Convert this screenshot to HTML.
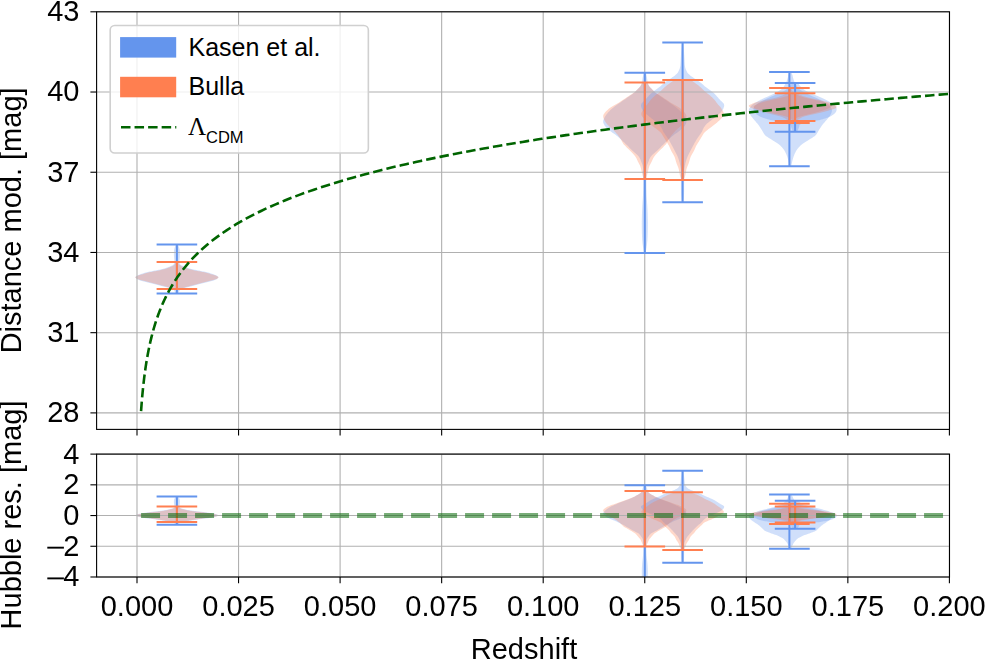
<!DOCTYPE html><html><head><meta charset="utf-8"><style>html,body{margin:0;padding:0;background:#fff;}svg{display:block;}</style></head><body><svg width="985" height="659" viewBox="0 0 985 659">
<defs><clipPath id="ct"><rect x="96.6" y="11.8" width="852.9" height="417.59999999999997"/></clipPath><clipPath id="cb"><rect x="96.6" y="454.1" width="852.9" height="122.89999999999998"/></clipPath></defs>
<rect width="985" height="659" fill="#fff"/>
<g clip-path="url(#ct)"><path d="M176.10,244.50 L175.96,244.77 L175.77,245.13 L175.55,245.56 L175.31,246.04 L175.09,246.53 L174.90,247.00 L174.74,247.46 L174.58,247.93 L174.44,248.41 L174.31,248.91 L174.19,249.44 L174.10,250.00 L174.03,250.61 L173.97,251.26 L173.94,251.94 L173.91,252.63 L173.90,253.32 L173.90,254.00 L173.91,254.68 L173.93,255.37 L173.97,256.06 L174.01,256.74 L174.06,257.39 L174.10,258.00 L174.15,258.57 L174.21,259.11 L174.27,259.62 L174.33,260.11 L174.37,260.57 L174.40,261.00 L174.42,261.39 L174.44,261.74 L174.46,262.06 L174.44,262.37 L174.40,262.68 L174.30,263.00 L174.19,263.33 L174.08,263.65 L173.94,263.97 L173.72,264.30 L173.39,264.64 L172.90,265.00 L172.23,265.40 L171.39,265.83 L170.44,266.27 L169.42,266.71 L168.39,267.12 L167.40,267.50 L166.42,267.84 L165.42,268.14 L164.40,268.43 L163.38,268.70 L162.38,268.95 L161.40,269.20 L160.46,269.43 L159.55,269.64 L158.65,269.83 L157.75,270.02 L156.84,270.21 L155.90,270.40 L154.93,270.60 L153.94,270.79 L152.93,270.98 L151.92,271.18 L150.91,271.38 L149.90,271.60 L148.89,271.83 L147.88,272.06 L146.87,272.31 L145.86,272.56 L144.87,272.82 L143.90,273.10 L142.92,273.40 L141.91,273.72 L140.92,274.06 L139.98,274.39 L139.13,274.71 L138.40,275.00 L137.81,275.27 L137.34,275.52 L136.95,275.76 L136.63,275.99 L136.35,276.20 L136.10,276.40 L135.87,276.58 L135.70,276.73 L135.56,276.87 L135.47,277.01 L135.42,277.15 L135.40,277.30 L135.42,277.46 L135.47,277.61 L135.56,277.76 L135.70,277.93 L135.87,278.10 L136.10,278.30 L136.35,278.52 L136.63,278.75 L136.95,279.00 L137.34,279.26 L137.81,279.53 L138.40,279.80 L139.13,280.09 L139.98,280.39 L140.92,280.71 L141.91,281.02 L142.92,281.32 L143.90,281.60 L144.87,281.86 L145.86,282.09 L146.87,282.32 L147.88,282.54 L148.89,282.77 L149.90,283.00 L150.91,283.25 L151.92,283.50 L152.93,283.75 L153.94,284.00 L154.93,284.25 L155.90,284.50 L156.84,284.74 L157.75,284.96 L158.65,285.19 L159.55,285.41 L160.46,285.65 L161.40,285.90 L162.38,286.17 L163.38,286.45 L164.40,286.74 L165.42,287.03 L166.42,287.32 L167.40,287.60 L168.39,287.87 L169.42,288.13 L170.43,288.39 L171.38,288.66 L172.22,288.92 L172.90,289.20 L173.39,289.48 L173.71,289.76 L173.93,290.04 L174.09,290.34 L174.23,290.66 L174.40,291.00 L174.61,291.41 L174.81,291.87 L174.99,292.36 L175.16,292.83 L175.30,293.22 L175.40,293.50 L178.40,293.50 L178.50,293.22 L178.64,292.83 L178.81,292.36 L178.99,291.87 L179.19,291.41 L179.40,291.00 L179.57,290.66 L179.71,290.34 L179.87,290.04 L180.09,289.76 L180.41,289.48 L180.90,289.20 L181.58,288.92 L182.42,288.66 L183.37,288.39 L184.38,288.13 L185.41,287.87 L186.40,287.60 L187.38,287.32 L188.38,287.03 L189.40,286.74 L190.42,286.45 L191.42,286.17 L192.40,285.90 L193.34,285.65 L194.25,285.41 L195.15,285.19 L196.05,284.96 L196.96,284.74 L197.90,284.50 L198.87,284.25 L199.86,284.00 L200.87,283.75 L201.88,283.50 L202.89,283.25 L203.90,283.00 L204.91,282.77 L205.92,282.54 L206.93,282.32 L207.94,282.09 L208.93,281.86 L209.90,281.60 L210.88,281.32 L211.89,281.02 L212.88,280.71 L213.82,280.39 L214.67,280.09 L215.40,279.80 L215.99,279.53 L216.46,279.26 L216.85,279.00 L217.17,278.75 L217.45,278.52 L217.70,278.30 L217.93,278.10 L218.10,277.93 L218.24,277.76 L218.33,277.61 L218.38,277.46 L218.40,277.30 L218.38,277.15 L218.33,277.01 L218.24,276.87 L218.10,276.73 L217.93,276.58 L217.70,276.40 L217.45,276.20 L217.17,275.99 L216.85,275.76 L216.46,275.52 L215.99,275.27 L215.40,275.00 L214.67,274.71 L213.82,274.39 L212.88,274.06 L211.89,273.72 L210.88,273.40 L209.90,273.10 L208.93,272.82 L207.94,272.56 L206.93,272.31 L205.92,272.06 L204.91,271.83 L203.90,271.60 L202.89,271.38 L201.88,271.18 L200.87,270.98 L199.86,270.79 L198.87,270.60 L197.90,270.40 L196.96,270.21 L196.05,270.02 L195.15,269.83 L194.25,269.64 L193.34,269.43 L192.40,269.20 L191.42,268.95 L190.42,268.70 L189.40,268.43 L188.38,268.14 L187.38,267.84 L186.40,267.50 L185.41,267.12 L184.38,266.71 L183.36,266.27 L182.41,265.83 L181.57,265.40 L180.90,265.00 L180.41,264.64 L180.08,264.30 L179.86,263.97 L179.72,263.65 L179.61,263.33 L179.50,263.00 L179.40,262.68 L179.36,262.37 L179.34,262.06 L179.36,261.74 L179.38,261.39 L179.40,261.00 L179.43,260.57 L179.47,260.11 L179.53,259.62 L179.59,259.11 L179.65,258.57 L179.70,258.00 L179.74,257.39 L179.79,256.74 L179.83,256.06 L179.87,255.37 L179.89,254.68 L179.90,254.00 L179.90,253.32 L179.89,252.63 L179.86,251.94 L179.83,251.26 L179.77,250.61 L179.70,250.00 L179.61,249.44 L179.49,248.91 L179.36,248.41 L179.22,247.93 L179.06,247.46 L178.90,247.00 L178.71,246.53 L178.49,246.04 L178.25,245.56 L178.03,245.13 L177.84,244.77 L177.70,244.50 Z" fill="#6495ed" fill-opacity="0.3"/>
<path d="M175.70,262.00 L175.69,262.12 L175.68,262.27 L175.67,262.46 L175.63,262.67 L175.55,262.92 L175.40,263.20 L175.22,263.52 L175.03,263.87 L174.79,264.26 L174.48,264.67 L174.06,265.09 L173.50,265.50 L172.76,265.93 L171.86,266.38 L170.84,266.84 L169.78,267.29 L168.71,267.72 L167.70,268.10 L166.73,268.44 L165.76,268.75 L164.79,269.04 L163.83,269.30 L162.86,269.56 L161.90,269.80 L160.95,270.03 L160.00,270.24 L159.05,270.44 L158.10,270.63 L157.15,270.81 L156.20,271.00 L155.24,271.18 L154.27,271.36 L153.31,271.53 L152.34,271.71 L151.37,271.89 L150.40,272.10 L149.43,272.32 L148.46,272.56 L147.49,272.81 L146.53,273.07 L145.56,273.33 L144.60,273.60 L143.61,273.88 L142.59,274.17 L141.56,274.47 L140.58,274.76 L139.68,275.04 L138.90,275.30 L138.24,275.53 L137.67,275.75 L137.19,275.96 L136.77,276.15 L136.41,276.33 L136.10,276.50 L135.85,276.65 L135.66,276.79 L135.53,276.91 L135.45,277.03 L135.41,277.16 L135.40,277.30 L135.41,277.45 L135.45,277.61 L135.53,277.77 L135.66,277.94 L135.85,278.11 L136.10,278.30 L136.41,278.50 L136.77,278.70 L137.19,278.92 L137.67,279.14 L138.24,279.37 L138.90,279.60 L139.68,279.84 L140.58,280.09 L141.56,280.34 L142.59,280.60 L143.61,280.85 L144.60,281.10 L145.56,281.34 L146.53,281.57 L147.49,281.80 L148.46,282.03 L149.43,282.26 L150.40,282.50 L151.37,282.75 L152.34,283.00 L153.31,283.25 L154.27,283.50 L155.24,283.75 L156.20,284.00 L157.15,284.24 L158.10,284.46 L159.05,284.69 L160.00,284.91 L160.95,285.15 L161.90,285.40 L162.86,285.67 L163.83,285.95 L164.79,286.24 L165.76,286.54 L166.73,286.82 L167.70,287.10 L168.72,287.37 L169.81,287.65 L170.91,287.93 L171.93,288.18 L172.82,288.41 L173.50,288.60 L173.94,288.75 L174.20,288.86 L174.31,288.94 L174.35,289.01 L174.36,289.06 L174.40,289.10 L179.40,289.10 L179.44,289.06 L179.45,289.01 L179.49,288.94 L179.60,288.86 L179.86,288.75 L180.30,288.60 L180.98,288.41 L181.87,288.18 L182.89,287.93 L183.99,287.65 L185.08,287.37 L186.10,287.10 L187.07,286.82 L188.04,286.54 L189.01,286.24 L189.97,285.95 L190.94,285.67 L191.90,285.40 L192.85,285.15 L193.80,284.91 L194.75,284.69 L195.70,284.46 L196.65,284.24 L197.60,284.00 L198.56,283.75 L199.53,283.50 L200.49,283.25 L201.46,283.00 L202.43,282.75 L203.40,282.50 L204.37,282.26 L205.34,282.03 L206.31,281.80 L207.27,281.57 L208.24,281.34 L209.20,281.10 L210.19,280.85 L211.21,280.60 L212.24,280.34 L213.22,280.09 L214.12,279.84 L214.90,279.60 L215.56,279.37 L216.13,279.14 L216.61,278.92 L217.03,278.70 L217.39,278.50 L217.70,278.30 L217.95,278.11 L218.14,277.94 L218.27,277.77 L218.35,277.61 L218.39,277.45 L218.40,277.30 L218.39,277.16 L218.35,277.03 L218.27,276.91 L218.14,276.79 L217.95,276.65 L217.70,276.50 L217.39,276.33 L217.03,276.15 L216.61,275.96 L216.13,275.75 L215.56,275.53 L214.90,275.30 L214.12,275.04 L213.22,274.76 L212.24,274.47 L211.21,274.17 L210.19,273.88 L209.20,273.60 L208.24,273.33 L207.27,273.07 L206.31,272.81 L205.34,272.56 L204.37,272.32 L203.40,272.10 L202.43,271.89 L201.46,271.71 L200.49,271.53 L199.53,271.36 L198.56,271.18 L197.60,271.00 L196.65,270.81 L195.70,270.63 L194.75,270.44 L193.80,270.24 L192.85,270.03 L191.90,269.80 L190.94,269.56 L189.97,269.30 L189.01,269.04 L188.04,268.75 L187.07,268.44 L186.10,268.10 L185.09,267.72 L184.02,267.29 L182.96,266.84 L181.94,266.38 L181.04,265.93 L180.30,265.50 L179.74,265.09 L179.32,264.67 L179.01,264.26 L178.77,263.87 L178.58,263.52 L178.40,263.20 L178.25,262.92 L178.17,262.67 L178.13,262.46 L178.12,262.27 L178.11,262.12 L178.10,262.00 Z" fill="#ff7f50" fill-opacity="0.3"/>
<path d="M643.80,72.70 L643.66,73.28 L643.47,74.09 L643.25,75.04 L643.01,76.06 L642.79,77.07 L642.60,78.00 L642.45,78.87 L642.33,79.75 L642.22,80.62 L642.11,81.46 L641.97,82.26 L641.80,83.00 L641.60,83.66 L641.39,84.24 L641.16,84.79 L640.90,85.31 L640.58,85.84 L640.20,86.40 L639.73,87.00 L639.19,87.61 L638.59,88.23 L637.97,88.84 L637.36,89.43 L636.80,90.00 L636.32,90.51 L635.92,90.97 L635.52,91.41 L635.08,91.87 L634.53,92.39 L633.80,93.00 L632.88,93.71 L631.80,94.50 L630.61,95.34 L629.36,96.22 L628.07,97.11 L626.80,98.00 L625.50,98.90 L624.13,99.83 L622.74,100.78 L621.36,101.72 L620.03,102.64 L618.80,103.50 L617.67,104.30 L616.61,105.06 L615.61,105.79 L614.65,106.51 L613.72,107.24 L612.80,108.00 L611.89,108.78 L611.00,109.56 L610.14,110.36 L609.32,111.16 L608.53,111.97 L607.80,112.80 L607.10,113.66 L606.43,114.54 L605.81,115.44 L605.23,116.33 L604.73,117.19 L604.30,118.00 L603.93,118.75 L603.62,119.45 L603.37,120.12 L603.20,120.79 L603.14,121.48 L603.20,122.20 L603.39,122.97 L603.70,123.77 L604.12,124.59 L604.62,125.41 L605.18,126.22 L605.80,127.00 L606.49,127.77 L607.29,128.53 L608.15,129.28 L609.04,130.01 L609.94,130.72 L610.80,131.40 L611.63,132.04 L612.47,132.63 L613.30,133.21 L614.13,133.78 L614.97,134.37 L615.80,135.00 L616.63,135.67 L617.45,136.35 L618.27,137.06 L619.10,137.78 L619.94,138.53 L620.80,139.30 L621.67,140.09 L622.54,140.90 L623.43,141.74 L624.33,142.60 L625.25,143.48 L626.20,144.40 L627.17,145.36 L628.17,146.36 L629.19,147.39 L630.22,148.44 L631.26,149.48 L632.30,150.50 L633.39,151.51 L634.55,152.53 L635.72,153.54 L636.84,154.54 L637.85,155.53 L638.70,156.50 L639.37,157.46 L639.89,158.41 L640.31,159.36 L640.66,160.27 L640.97,161.16 L641.30,162.00 L641.63,162.77 L641.92,163.47 L642.19,164.14 L642.42,164.81 L642.63,165.52 L642.80,166.30 L642.93,167.14 L643.03,168.01 L643.09,168.92 L643.13,169.88 L643.16,170.90 L643.20,172.00 L643.24,173.12 L643.27,174.24 L643.29,175.42 L643.31,176.73 L643.31,178.23 L643.30,180.00 L643.28,182.12 L643.25,184.56 L643.21,187.19 L643.15,189.89 L643.08,192.53 L643.00,195.00 L642.89,197.27 L642.76,199.44 L642.61,201.56 L642.46,203.67 L642.32,205.80 L642.20,208.00 L642.10,210.28 L642.01,212.59 L641.94,214.94 L641.87,217.30 L641.83,219.66 L641.80,222.00 L641.79,224.40 L641.81,226.89 L641.84,229.38 L641.88,231.78 L641.94,234.01 L642.00,236.00 L642.07,237.67 L642.14,239.07 L642.22,240.31 L642.33,241.48 L642.45,242.68 L642.60,244.00 L642.80,245.55 L643.06,247.26 L643.34,249.00 L643.61,250.63 L643.84,252.01 L644.00,253.00 L645.60,253.00 L645.76,252.01 L645.99,250.63 L646.26,249.00 L646.54,247.26 L646.80,245.55 L647.00,244.00 L647.15,242.68 L647.27,241.48 L647.38,240.31 L647.46,239.07 L647.53,237.67 L647.60,236.00 L647.66,234.01 L647.72,231.78 L647.76,229.38 L647.79,226.89 L647.81,224.40 L647.80,222.00 L647.77,219.66 L647.73,217.30 L647.66,214.94 L647.59,212.59 L647.50,210.28 L647.40,208.00 L647.28,205.80 L647.14,203.67 L646.99,201.56 L646.84,199.44 L646.71,197.27 L646.60,195.00 L646.52,192.53 L646.45,189.89 L646.39,187.19 L646.35,184.56 L646.32,182.12 L646.30,180.00 L646.29,178.23 L646.29,176.73 L646.31,175.42 L646.33,174.24 L646.36,173.12 L646.40,172.00 L646.44,170.90 L646.47,169.88 L646.51,168.92 L646.57,168.01 L646.67,167.14 L646.80,166.30 L646.97,165.52 L647.18,164.81 L647.41,164.14 L647.68,163.47 L647.97,162.77 L648.30,162.00 L648.63,161.16 L648.94,160.27 L649.29,159.36 L649.71,158.41 L650.23,157.46 L650.90,156.50 L651.75,155.53 L652.76,154.54 L653.88,153.54 L655.05,152.53 L656.21,151.51 L657.30,150.50 L658.34,149.48 L659.38,148.44 L660.41,147.39 L661.43,146.36 L662.43,145.36 L663.40,144.40 L664.35,143.48 L665.27,142.60 L666.17,141.74 L667.06,140.90 L667.93,140.09 L668.80,139.30 L669.66,138.53 L670.50,137.78 L671.32,137.06 L672.15,136.35 L672.97,135.67 L673.80,135.00 L674.63,134.37 L675.47,133.78 L676.30,133.21 L677.13,132.63 L677.97,132.04 L678.80,131.40 L679.66,130.72 L680.56,130.01 L681.45,129.28 L682.31,128.53 L683.11,127.77 L683.80,127.00 L684.42,126.22 L684.98,125.41 L685.48,124.59 L685.90,123.77 L686.21,122.97 L686.40,122.20 L686.46,121.48 L686.40,120.79 L686.23,120.12 L685.98,119.45 L685.67,118.75 L685.30,118.00 L684.87,117.19 L684.37,116.33 L683.79,115.44 L683.17,114.54 L682.50,113.66 L681.80,112.80 L681.07,111.97 L680.28,111.16 L679.46,110.36 L678.60,109.56 L677.71,108.78 L676.80,108.00 L675.88,107.24 L674.95,106.51 L673.99,105.79 L672.99,105.06 L671.93,104.30 L670.80,103.50 L669.57,102.64 L668.24,101.72 L666.86,100.78 L665.47,99.83 L664.10,98.90 L662.80,98.00 L661.53,97.11 L660.24,96.22 L658.99,95.34 L657.80,94.50 L656.72,93.71 L655.80,93.00 L655.07,92.39 L654.52,91.87 L654.07,91.41 L653.68,90.97 L653.28,90.51 L652.80,90.00 L652.24,89.43 L651.63,88.84 L651.01,88.23 L650.41,87.61 L649.87,87.00 L649.40,86.40 L649.02,85.84 L648.70,85.31 L648.44,84.79 L648.21,84.24 L648.00,83.66 L647.80,83.00 L647.62,82.26 L647.49,81.46 L647.38,80.62 L647.27,79.75 L647.15,78.87 L647.00,78.00 L646.81,77.07 L646.59,76.06 L646.35,75.04 L646.13,74.09 L645.94,73.28 L645.80,72.70 Z" fill="#6495ed" fill-opacity="0.3"/>
<path d="M642.30,82.60 L642.09,83.02 L641.80,83.59 L641.46,84.28 L641.07,85.01 L640.65,85.73 L640.20,86.40 L639.71,87.02 L639.17,87.64 L638.59,88.25 L637.99,88.85 L637.39,89.44 L636.80,90.00 L636.27,90.51 L635.79,90.97 L635.31,91.41 L634.77,91.87 L634.12,92.39 L633.30,93.00 L632.29,93.71 L631.13,94.50 L629.86,95.34 L628.51,96.22 L627.15,97.11 L625.80,98.00 L624.44,98.90 L623.04,99.83 L621.61,100.78 L620.17,101.72 L618.76,102.64 L617.40,103.50 L616.06,104.30 L614.71,105.06 L613.39,105.79 L612.11,106.51 L610.91,107.24 L609.80,108.00 L608.78,108.80 L607.81,109.64 L606.92,110.48 L606.12,111.31 L605.41,112.09 L604.80,112.80 L604.31,113.42 L603.91,113.96 L603.62,114.45 L603.41,114.93 L603.27,115.44 L603.20,116.00 L603.20,116.61 L603.28,117.24 L603.43,117.89 L603.66,118.56 L603.95,119.27 L604.30,120.00 L604.72,120.78 L605.21,121.59 L605.77,122.44 L606.40,123.30 L607.07,124.16 L607.80,125.00 L608.61,125.83 L609.52,126.67 L610.49,127.50 L611.47,128.33 L612.42,129.17 L613.30,130.00 L614.13,130.84 L614.93,131.69 L615.71,132.54 L616.45,133.39 L617.15,134.21 L617.80,135.00 L618.39,135.75 L618.91,136.46 L619.39,137.14 L619.86,137.83 L620.32,138.55 L620.80,139.30 L621.26,140.09 L621.69,140.90 L622.11,141.74 L622.57,142.60 L623.12,143.48 L623.80,144.40 L624.65,145.36 L625.63,146.36 L626.70,147.39 L627.80,148.44 L628.89,149.48 L629.90,150.50 L630.87,151.50 L631.84,152.50 L632.79,153.50 L633.70,154.50 L634.54,155.50 L635.30,156.50 L635.96,157.54 L636.55,158.61 L637.07,159.69 L637.54,160.74 L637.98,161.72 L638.40,162.60 L638.79,163.33 L639.14,163.94 L639.45,164.48 L639.74,165.01 L640.02,165.60 L640.30,166.30 L640.58,167.15 L640.85,168.11 L641.11,169.13 L641.35,170.15 L641.58,171.13 L641.80,172.00 L642.00,172.78 L642.19,173.50 L642.36,174.18 L642.52,174.81 L642.67,175.42 L642.80,176.00 L642.92,176.58 L643.02,177.16 L643.11,177.70 L643.19,178.19 L643.25,178.60 L643.30,178.90 L646.30,178.90 L646.35,178.60 L646.41,178.19 L646.49,177.70 L646.58,177.16 L646.68,176.58 L646.80,176.00 L646.93,175.42 L647.08,174.81 L647.24,174.18 L647.41,173.50 L647.60,172.78 L647.80,172.00 L648.02,171.13 L648.25,170.15 L648.49,169.13 L648.75,168.11 L649.02,167.15 L649.30,166.30 L649.58,165.60 L649.86,165.01 L650.15,164.48 L650.46,163.94 L650.81,163.33 L651.20,162.60 L651.62,161.72 L652.06,160.74 L652.53,159.69 L653.05,158.61 L653.64,157.54 L654.30,156.50 L655.06,155.50 L655.90,154.50 L656.81,153.50 L657.76,152.50 L658.73,151.50 L659.70,150.50 L660.71,149.48 L661.80,148.44 L662.90,147.39 L663.97,146.36 L664.95,145.36 L665.80,144.40 L666.48,143.48 L667.03,142.60 L667.49,141.74 L667.91,140.90 L668.34,140.09 L668.80,139.30 L669.28,138.55 L669.74,137.83 L670.21,137.14 L670.69,136.46 L671.21,135.75 L671.80,135.00 L672.45,134.21 L673.15,133.39 L673.89,132.54 L674.67,131.69 L675.47,130.84 L676.30,130.00 L677.18,129.17 L678.13,128.33 L679.11,127.50 L680.08,126.67 L680.99,125.83 L681.80,125.00 L682.53,124.16 L683.20,123.30 L683.82,122.44 L684.39,121.59 L684.88,120.78 L685.30,120.00 L685.65,119.27 L685.94,118.56 L686.17,117.89 L686.32,117.24 L686.40,116.61 L686.40,116.00 L686.33,115.44 L686.19,114.93 L685.98,114.45 L685.69,113.96 L685.29,113.42 L684.80,112.80 L684.19,112.09 L683.48,111.31 L682.67,110.48 L681.79,109.64 L680.82,108.80 L679.80,108.00 L678.69,107.24 L677.49,106.51 L676.21,105.79 L674.89,105.06 L673.54,104.30 L672.20,103.50 L670.84,102.64 L669.43,101.72 L667.99,100.78 L666.56,99.83 L665.16,98.90 L663.80,98.00 L662.45,97.11 L661.09,96.22 L659.74,95.34 L658.47,94.50 L657.31,93.71 L656.30,93.00 L655.48,92.39 L654.83,91.87 L654.29,91.41 L653.81,90.97 L653.33,90.51 L652.80,90.00 L652.21,89.44 L651.61,88.85 L651.01,88.25 L650.43,87.64 L649.89,87.02 L649.40,86.40 L648.95,85.73 L648.53,85.01 L648.14,84.28 L647.80,83.59 L647.51,83.02 L647.30,82.60 Z" fill="#ff7f50" fill-opacity="0.3"/>
<path d="M681.80,42.60 L681.75,43.40 L681.67,44.50 L681.58,45.80 L681.49,47.21 L681.39,48.65 L681.30,50.00 L681.21,51.34 L681.12,52.77 L681.03,54.21 L680.94,55.61 L680.87,56.89 L680.80,58.00 L680.75,58.89 L680.72,59.61 L680.69,60.21 L680.67,60.77 L680.64,61.34 L680.60,62.00 L680.55,62.75 L680.51,63.53 L680.46,64.34 L680.39,65.13 L680.31,65.90 L680.20,66.60 L680.07,67.24 L679.91,67.83 L679.74,68.39 L679.54,68.93 L679.33,69.46 L679.10,70.00 L678.86,70.54 L678.62,71.08 L678.36,71.61 L678.07,72.13 L677.72,72.66 L677.30,73.20 L676.81,73.74 L676.26,74.29 L675.65,74.84 L675.00,75.40 L674.31,75.95 L673.60,76.50 L672.84,77.05 L672.01,77.60 L671.15,78.16 L670.28,78.71 L669.42,79.26 L668.60,79.80 L667.81,80.34 L667.04,80.87 L666.28,81.39 L665.54,81.92 L664.81,82.46 L664.10,83.00 L663.46,83.53 L662.89,84.04 L662.34,84.55 L661.75,85.10 L661.06,85.70 L660.20,86.40 L659.11,87.22 L657.81,88.16 L656.41,89.16 L655.00,90.17 L653.70,91.13 L652.60,92.00 L651.72,92.76 L650.98,93.45 L650.34,94.10 L649.76,94.73 L649.20,95.35 L648.60,96.00 L647.99,96.67 L647.41,97.33 L646.84,98.00 L646.27,98.67 L645.69,99.33 L645.10,100.00 L644.44,100.67 L643.70,101.33 L642.96,102.00 L642.27,102.67 L641.70,103.33 L641.30,104.00 L641.09,104.67 L641.01,105.33 L641.06,106.00 L641.19,106.67 L641.38,107.33 L641.60,108.00 L641.87,108.67 L642.20,109.33 L642.59,110.00 L643.04,110.67 L643.54,111.33 L644.10,112.00 L644.73,112.67 L645.43,113.33 L646.19,114.00 L646.99,114.67 L647.80,115.33 L648.60,116.00 L649.40,116.67 L650.23,117.33 L651.07,118.00 L651.91,118.67 L652.76,119.33 L653.60,120.00 L654.46,120.67 L655.34,121.33 L656.23,122.00 L657.08,122.67 L657.88,123.33 L658.60,124.00 L659.23,124.66 L659.79,125.33 L660.29,125.99 L660.75,126.65 L661.18,127.32 L661.60,128.00 L661.97,128.67 L662.27,129.33 L662.54,129.99 L662.82,130.67 L663.16,131.41 L663.60,132.20 L664.15,133.07 L664.79,133.99 L665.49,134.96 L666.21,135.96 L666.92,136.98 L667.60,138.00 L668.25,139.04 L668.90,140.10 L669.55,141.18 L670.19,142.27 L670.80,143.34 L671.40,144.40 L671.97,145.44 L672.52,146.46 L673.05,147.48 L673.57,148.49 L674.09,149.49 L674.60,150.50 L675.12,151.50 L675.65,152.50 L676.18,153.50 L676.68,154.50 L677.16,155.50 L677.60,156.50 L678.00,157.51 L678.37,158.53 L678.71,159.54 L679.03,160.56 L679.32,161.58 L679.60,162.60 L679.86,163.61 L680.09,164.63 L680.31,165.64 L680.50,166.65 L680.66,167.67 L680.80,168.70 L680.91,169.70 L680.98,170.65 L681.02,171.61 L681.06,172.62 L681.08,173.73 L681.10,175.00 L681.12,176.45 L681.12,178.06 L681.11,179.77 L681.10,181.53 L681.10,183.29 L681.10,185.00 L681.11,186.70 L681.11,188.44 L681.11,190.17 L681.13,191.87 L681.15,193.50 L681.20,195.00 L681.28,196.45 L681.39,197.87 L681.51,199.22 L681.63,200.44 L681.73,201.45 L681.80,202.20 L683.40,202.20 L683.47,201.45 L683.57,200.44 L683.69,199.22 L683.81,197.87 L683.92,196.45 L684.00,195.00 L684.05,193.50 L684.07,191.87 L684.09,190.17 L684.09,188.44 L684.09,186.70 L684.10,185.00 L684.10,183.29 L684.10,181.53 L684.09,179.77 L684.08,178.06 L684.08,176.45 L684.10,175.00 L684.12,173.73 L684.14,172.62 L684.18,171.61 L684.22,170.65 L684.29,169.70 L684.40,168.70 L684.54,167.67 L684.70,166.65 L684.89,165.64 L685.11,164.63 L685.34,163.61 L685.60,162.60 L685.88,161.58 L686.17,160.56 L686.49,159.54 L686.83,158.53 L687.20,157.51 L687.60,156.50 L688.04,155.50 L688.52,154.50 L689.02,153.50 L689.55,152.50 L690.08,151.50 L690.60,150.50 L691.11,149.49 L691.63,148.49 L692.15,147.48 L692.68,146.46 L693.23,145.44 L693.80,144.40 L694.40,143.34 L695.01,142.27 L695.65,141.18 L696.30,140.10 L696.95,139.04 L697.60,138.00 L698.28,136.98 L698.99,135.96 L699.71,134.96 L700.41,133.99 L701.05,133.07 L701.60,132.20 L702.04,131.41 L702.38,130.67 L702.66,129.99 L702.93,129.33 L703.23,128.67 L703.60,128.00 L704.02,127.32 L704.45,126.65 L704.91,125.99 L705.41,125.33 L705.97,124.66 L706.60,124.00 L707.32,123.33 L708.12,122.67 L708.98,122.00 L709.86,121.33 L710.74,120.67 L711.60,120.00 L712.44,119.33 L713.29,118.67 L714.13,118.00 L714.97,117.33 L715.80,116.67 L716.60,116.00 L717.40,115.33 L718.21,114.67 L719.01,114.00 L719.77,113.33 L720.47,112.67 L721.10,112.00 L721.66,111.33 L722.16,110.67 L722.61,110.00 L723.00,109.33 L723.33,108.67 L723.60,108.00 L723.82,107.33 L724.01,106.67 L724.14,106.00 L724.19,105.33 L724.11,104.67 L723.90,104.00 L723.50,103.33 L722.93,102.67 L722.24,102.00 L721.50,101.33 L720.76,100.67 L720.10,100.00 L719.51,99.33 L718.93,98.67 L718.36,98.00 L717.79,97.33 L717.21,96.67 L716.60,96.00 L716.00,95.35 L715.44,94.73 L714.86,94.10 L714.22,93.45 L713.48,92.76 L712.60,92.00 L711.50,91.13 L710.20,90.17 L708.79,89.16 L707.39,88.16 L706.09,87.22 L705.00,86.40 L704.14,85.70 L703.45,85.10 L702.86,84.55 L702.31,84.04 L701.74,83.53 L701.10,83.00 L700.39,82.46 L699.66,81.92 L698.92,81.39 L698.16,80.87 L697.39,80.34 L696.60,79.80 L695.78,79.26 L694.92,78.71 L694.05,78.16 L693.19,77.60 L692.36,77.05 L691.60,76.50 L690.89,75.95 L690.20,75.40 L689.55,74.84 L688.94,74.29 L688.39,73.74 L687.90,73.20 L687.48,72.66 L687.13,72.13 L686.84,71.61 L686.58,71.08 L686.34,70.54 L686.10,70.00 L685.87,69.46 L685.66,68.93 L685.46,68.39 L685.29,67.83 L685.13,67.24 L685.00,66.60 L684.89,65.90 L684.81,65.13 L684.74,64.34 L684.69,63.53 L684.65,62.75 L684.60,62.00 L684.56,61.34 L684.53,60.77 L684.51,60.21 L684.48,59.61 L684.45,58.89 L684.40,58.00 L684.33,56.89 L684.26,55.61 L684.17,54.21 L684.08,52.77 L683.99,51.34 L683.90,50.00 L683.81,48.65 L683.71,47.21 L683.62,45.80 L683.53,44.50 L683.45,43.40 L683.40,42.60 Z" fill="#6495ed" fill-opacity="0.3"/>
<path d="M674.60,79.90 L674.31,80.10 L673.93,80.36 L673.48,80.68 L672.93,81.05 L672.31,81.49 L671.60,82.00 L670.77,82.59 L669.82,83.25 L668.79,83.98 L667.71,84.76 L666.63,85.57 L665.60,86.40 L664.59,87.28 L663.56,88.24 L662.54,89.23 L661.53,90.21 L660.54,91.15 L659.60,92.00 L658.70,92.76 L657.82,93.45 L656.98,94.10 L656.16,94.73 L655.36,95.35 L654.60,96.00 L653.86,96.67 L653.16,97.33 L652.48,98.00 L651.82,98.67 L651.20,99.33 L650.60,100.00 L650.05,100.67 L649.54,101.33 L649.07,102.00 L648.60,102.67 L648.12,103.33 L647.60,104.00 L647.04,104.64 L646.44,105.26 L645.84,105.88 L645.23,106.52 L644.65,107.22 L644.10,108.00 L643.53,108.91 L642.93,109.92 L642.34,110.99 L641.83,112.06 L641.46,113.08 L641.30,114.00 L641.37,114.81 L641.63,115.55 L642.02,116.24 L642.52,116.90 L643.06,117.54 L643.60,118.20 L644.16,118.85 L644.77,119.49 L645.43,120.11 L646.13,120.73 L646.86,121.35 L647.60,122.00 L648.34,122.64 L649.09,123.27 L649.86,123.91 L650.69,124.57 L651.59,125.30 L652.60,126.10 L653.79,127.02 L655.16,128.03 L656.61,129.11 L658.04,130.19 L659.33,131.24 L660.40,132.20 L661.20,133.07 L661.81,133.89 L662.30,134.67 L662.72,135.44 L663.13,136.21 L663.60,137.00 L664.12,137.82 L664.63,138.66 L665.14,139.49 L665.64,140.32 L666.13,141.13 L666.60,141.90 L667.05,142.62 L667.49,143.31 L667.91,143.98 L668.32,144.63 L668.72,145.30 L669.10,146.00 L669.45,146.71 L669.76,147.41 L670.05,148.13 L670.36,148.87 L670.70,149.66 L671.10,150.50 L671.59,151.41 L672.16,152.39 L672.76,153.40 L673.36,154.44 L673.92,155.48 L674.40,156.50 L674.79,157.51 L675.12,158.53 L675.41,159.54 L675.69,160.56 L675.98,161.58 L676.30,162.60 L676.68,163.64 L677.10,164.72 L677.52,165.80 L677.94,166.84 L678.30,167.82 L678.60,168.70 L678.81,169.46 L678.95,170.11 L679.04,170.71 L679.12,171.26 L679.20,171.82 L679.30,172.40 L679.42,173.00 L679.54,173.59 L679.66,174.18 L679.79,174.77 L679.94,175.38 L680.10,176.00 L680.30,176.69 L680.54,177.45 L680.80,178.22 L681.04,178.95 L681.25,179.56 L681.40,180.00 L683.80,180.00 L683.95,179.56 L684.16,178.95 L684.40,178.22 L684.66,177.45 L684.90,176.69 L685.10,176.00 L685.26,175.38 L685.41,174.77 L685.54,174.18 L685.66,173.59 L685.78,173.00 L685.90,172.40 L686.00,171.82 L686.08,171.26 L686.16,170.71 L686.25,170.11 L686.39,169.46 L686.60,168.70 L686.90,167.82 L687.26,166.84 L687.68,165.80 L688.10,164.72 L688.52,163.64 L688.90,162.60 L689.22,161.58 L689.51,160.56 L689.79,159.54 L690.08,158.53 L690.41,157.51 L690.80,156.50 L691.28,155.48 L691.84,154.44 L692.44,153.40 L693.04,152.39 L693.61,151.41 L694.10,150.50 L694.50,149.66 L694.84,148.87 L695.15,148.13 L695.44,147.41 L695.75,146.71 L696.10,146.00 L696.48,145.30 L696.88,144.63 L697.29,143.98 L697.71,143.31 L698.15,142.62 L698.60,141.90 L699.07,141.13 L699.56,140.32 L700.06,139.49 L700.57,138.66 L701.08,137.82 L701.60,137.00 L702.07,136.21 L702.48,135.44 L702.90,134.67 L703.39,133.89 L704.00,133.07 L704.80,132.20 L705.87,131.24 L707.16,130.19 L708.59,129.11 L710.04,128.03 L711.41,127.02 L712.60,126.10 L713.61,125.30 L714.51,124.57 L715.34,123.91 L716.11,123.27 L716.86,122.64 L717.60,122.00 L718.34,121.35 L719.07,120.73 L719.77,120.11 L720.43,119.49 L721.04,118.85 L721.60,118.20 L722.14,117.54 L722.68,116.90 L723.18,116.24 L723.57,115.55 L723.83,114.81 L723.90,114.00 L723.74,113.08 L723.37,112.06 L722.86,110.99 L722.27,109.92 L721.67,108.91 L721.10,108.00 L720.55,107.22 L719.97,106.52 L719.36,105.88 L718.76,105.26 L718.16,104.64 L717.60,104.00 L717.08,103.33 L716.60,102.67 L716.13,102.00 L715.66,101.33 L715.15,100.67 L714.60,100.00 L714.00,99.33 L713.38,98.67 L712.73,98.00 L712.04,97.33 L711.34,96.67 L710.60,96.00 L709.84,95.35 L709.04,94.73 L708.23,94.10 L707.38,93.45 L706.50,92.76 L705.60,92.00 L704.66,91.15 L703.67,90.21 L702.66,89.23 L701.64,88.24 L700.61,87.28 L699.60,86.40 L698.57,85.57 L697.49,84.76 L696.41,83.98 L695.38,83.25 L694.43,82.59 L693.60,82.00 L692.89,81.49 L692.27,81.05 L691.73,80.68 L691.27,80.36 L690.89,80.10 L690.60,79.90 Z" fill="#ff7f50" fill-opacity="0.3"/>
<path d="M789.60,71.90 L789.47,72.23 L789.28,72.67 L789.06,73.20 L788.83,73.79 L788.60,74.40 L788.40,75.00 L788.23,75.61 L788.07,76.27 L787.92,76.94 L787.76,77.63 L787.59,78.32 L787.40,79.00 L787.19,79.67 L786.97,80.33 L786.74,81.00 L786.49,81.67 L786.21,82.33 L785.90,83.00 L785.55,83.68 L785.16,84.37 L784.74,85.06 L784.31,85.74 L783.86,86.39 L783.40,87.00 L782.98,87.55 L782.59,88.04 L782.18,88.50 L781.71,88.96 L781.14,89.45 L780.40,90.00 L779.48,90.61 L778.40,91.28 L777.21,91.97 L775.96,92.67 L774.67,93.35 L773.40,94.00 L772.10,94.62 L770.73,95.23 L769.34,95.82 L767.96,96.40 L766.63,96.96 L765.40,97.50 L764.29,98.01 L763.27,98.47 L762.31,98.92 L761.36,99.38 L760.41,99.87 L759.40,100.40 L758.31,100.99 L757.15,101.63 L755.98,102.30 L754.85,102.98 L753.80,103.65 L752.90,104.30 L752.13,104.94 L751.47,105.57 L750.89,106.21 L750.39,106.83 L749.96,107.43 L749.60,108.00 L749.31,108.53 L749.09,109.01 L748.95,109.48 L748.87,109.95 L748.86,110.45 L748.90,111.00 L749.01,111.61 L749.18,112.26 L749.42,112.94 L749.71,113.63 L750.04,114.32 L750.40,115.00 L750.80,115.66 L751.25,116.31 L751.74,116.96 L752.27,117.62 L752.82,118.30 L753.40,119.00 L754.03,119.75 L754.71,120.53 L755.43,121.34 L756.14,122.13 L756.81,122.90 L757.40,123.60 L757.90,124.23 L758.34,124.80 L758.74,125.34 L759.12,125.87 L759.50,126.41 L759.90,127.00 L760.31,127.63 L760.71,128.27 L761.12,128.93 L761.53,129.61 L761.95,130.30 L762.40,131.00 L762.84,131.73 L763.25,132.48 L763.68,133.25 L764.16,134.02 L764.72,134.77 L765.40,135.50 L766.21,136.19 L767.14,136.85 L768.15,137.50 L769.21,138.15 L770.31,138.81 L771.40,139.50 L772.53,140.22 L773.73,140.94 L774.96,141.69 L776.18,142.44 L777.34,143.22 L778.40,144.00 L779.37,144.80 L780.29,145.61 L781.15,146.44 L781.96,147.28 L782.71,148.13 L783.40,149.00 L784.03,149.89 L784.59,150.80 L785.10,151.72 L785.56,152.65 L785.99,153.58 L786.40,154.50 L786.77,155.41 L787.10,156.31 L787.40,157.21 L787.67,158.11 L787.94,159.04 L788.20,160.00 L788.47,161.06 L788.75,162.24 L789.01,163.44 L789.25,164.57 L789.45,165.52 L789.60,166.20 L791.20,166.20 L791.35,165.52 L791.55,164.57 L791.79,163.44 L792.05,162.24 L792.33,161.06 L792.60,160.00 L792.86,159.04 L793.13,158.11 L793.40,157.21 L793.70,156.31 L794.03,155.41 L794.40,154.50 L794.81,153.58 L795.24,152.65 L795.70,151.72 L796.21,150.80 L796.77,149.89 L797.40,149.00 L798.09,148.13 L798.84,147.28 L799.65,146.44 L800.51,145.61 L801.43,144.80 L802.40,144.00 L803.46,143.22 L804.62,142.44 L805.84,141.69 L807.07,140.94 L808.27,140.22 L809.40,139.50 L810.49,138.81 L811.59,138.15 L812.65,137.50 L813.66,136.85 L814.59,136.19 L815.40,135.50 L816.08,134.77 L816.64,134.02 L817.12,133.25 L817.55,132.48 L817.96,131.73 L818.40,131.00 L818.85,130.30 L819.27,129.61 L819.68,128.93 L820.09,128.27 L820.49,127.63 L820.90,127.00 L821.30,126.41 L821.68,125.87 L822.06,125.34 L822.46,124.80 L822.90,124.23 L823.40,123.60 L823.99,122.90 L824.66,122.13 L825.37,121.34 L826.09,120.53 L826.77,119.75 L827.40,119.00 L827.98,118.30 L828.53,117.62 L829.06,116.96 L829.55,116.31 L830.00,115.66 L830.40,115.00 L830.76,114.32 L831.09,113.63 L831.38,112.94 L831.62,112.26 L831.79,111.61 L831.90,111.00 L831.94,110.45 L831.93,109.95 L831.85,109.48 L831.71,109.01 L831.49,108.53 L831.20,108.00 L830.84,107.43 L830.41,106.83 L829.91,106.21 L829.33,105.57 L828.67,104.94 L827.90,104.30 L827.00,103.65 L825.95,102.98 L824.82,102.30 L823.65,101.63 L822.49,100.99 L821.40,100.40 L820.39,99.87 L819.44,99.38 L818.49,98.92 L817.53,98.47 L816.51,98.01 L815.40,97.50 L814.17,96.96 L812.84,96.40 L811.46,95.82 L810.07,95.23 L808.70,94.62 L807.40,94.00 L806.13,93.35 L804.84,92.67 L803.59,91.97 L802.40,91.28 L801.32,90.61 L800.40,90.00 L799.66,89.45 L799.09,88.96 L798.62,88.50 L798.21,88.04 L797.82,87.55 L797.40,87.00 L796.94,86.39 L796.49,85.74 L796.06,85.06 L795.64,84.37 L795.25,83.68 L794.90,83.00 L794.59,82.33 L794.31,81.67 L794.06,81.00 L793.83,80.33 L793.61,79.67 L793.40,79.00 L793.21,78.32 L793.04,77.63 L792.88,76.94 L792.73,76.27 L792.57,75.61 L792.40,75.00 L792.20,74.40 L791.97,73.79 L791.74,73.20 L791.52,72.67 L791.33,72.23 L791.20,71.90 Z" fill="#6495ed" fill-opacity="0.3"/>
<path d="M789.60,88.10 L789.50,88.41 L789.39,88.83 L789.25,89.32 L789.05,89.87 L788.78,90.44 L788.40,91.00 L787.94,91.57 L787.42,92.17 L786.82,92.80 L786.13,93.43 L785.33,94.03 L784.40,94.60 L783.36,95.12 L782.21,95.62 L780.96,96.09 L779.59,96.56 L778.07,97.02 L776.40,97.50 L774.46,97.99 L772.25,98.50 L769.90,99.00 L767.55,99.49 L765.34,99.96 L763.40,100.40 L761.74,100.80 L760.25,101.16 L758.90,101.51 L757.66,101.84 L756.50,102.17 L755.40,102.50 L754.35,102.85 L753.38,103.21 L752.49,103.57 L751.70,103.91 L751.00,104.23 L750.40,104.50 L749.92,104.72 L749.55,104.88 L749.27,105.02 L749.09,105.15 L748.96,105.30 L748.90,105.50 L748.86,105.73 L748.84,105.97 L748.90,106.23 L749.07,106.52 L749.39,106.84 L749.90,107.20 L750.62,107.61 L751.53,108.08 L752.59,108.57 L753.77,109.09 L755.05,109.60 L756.40,110.10 L757.84,110.58 L759.40,111.07 L761.06,111.55 L762.79,112.03 L764.58,112.52 L766.40,113.00 L768.35,113.49 L770.46,113.99 L772.62,114.48 L774.73,114.97 L776.70,115.45 L778.40,115.90 L779.84,116.33 L781.10,116.73 L782.21,117.11 L783.20,117.50 L784.08,117.89 L784.90,118.30 L785.62,118.74 L786.21,119.20 L786.70,119.67 L787.13,120.13 L787.52,120.58 L787.90,121.00 L788.28,121.41 L788.63,121.82 L788.94,122.22 L789.21,122.58 L789.43,122.88 L789.60,123.10 L791.20,123.10 L791.37,122.88 L791.59,122.58 L791.86,122.22 L792.17,121.82 L792.52,121.41 L792.90,121.00 L793.28,120.58 L793.67,120.13 L794.10,119.67 L794.59,119.20 L795.18,118.74 L795.90,118.30 L796.72,117.89 L797.60,117.50 L798.59,117.11 L799.70,116.73 L800.96,116.33 L802.40,115.90 L804.10,115.45 L806.07,114.97 L808.18,114.48 L810.34,113.99 L812.45,113.49 L814.40,113.00 L816.22,112.52 L818.01,112.03 L819.74,111.55 L821.40,111.07 L822.96,110.58 L824.40,110.10 L825.75,109.60 L827.03,109.09 L828.21,108.57 L829.27,108.08 L830.18,107.61 L830.90,107.20 L831.41,106.84 L831.73,106.52 L831.90,106.23 L831.96,105.97 L831.94,105.73 L831.90,105.50 L831.84,105.30 L831.71,105.15 L831.52,105.02 L831.25,104.88 L830.88,104.72 L830.40,104.50 L829.80,104.23 L829.10,103.91 L828.31,103.57 L827.42,103.21 L826.45,102.85 L825.40,102.50 L824.30,102.17 L823.14,101.84 L821.90,101.51 L820.55,101.16 L819.06,100.80 L817.40,100.40 L815.46,99.96 L813.25,99.49 L810.90,99.00 L808.55,98.50 L806.34,97.99 L804.40,97.50 L802.73,97.02 L801.21,96.56 L799.84,96.09 L798.59,95.62 L797.44,95.12 L796.40,94.60 L795.47,94.03 L794.67,93.43 L793.98,92.80 L793.38,92.17 L792.86,91.57 L792.40,91.00 L792.02,90.44 L791.75,89.87 L791.55,89.32 L791.41,88.83 L791.30,88.41 L791.20,88.10 Z" fill="#ff7f50" fill-opacity="0.3"/>
<path d="M792.10,83.10 L791.89,83.41 L791.62,83.85 L791.29,84.36 L790.91,84.92 L790.51,85.48 L790.10,86.00 L789.68,86.49 L789.25,86.99 L788.79,87.49 L788.29,88.00 L787.73,88.50 L787.10,89.00 L786.41,89.50 L785.66,90.00 L784.85,90.50 L783.99,91.00 L783.07,91.50 L782.10,92.00 L781.05,92.50 L779.91,93.00 L778.73,93.50 L777.51,94.00 L776.29,94.50 L775.10,95.00 L773.92,95.50 L772.73,96.00 L771.54,96.50 L770.36,97.00 L769.21,97.50 L768.10,98.00 L767.03,98.50 L765.99,99.00 L764.98,99.50 L763.99,100.00 L763.03,100.50 L762.10,101.00 L761.19,101.50 L760.29,102.00 L759.41,102.50 L758.58,103.00 L757.81,103.50 L757.10,104.00 L756.46,104.50 L755.86,105.00 L755.32,105.50 L754.84,106.00 L754.43,106.50 L754.10,107.00 L753.85,107.50 L753.67,108.00 L753.57,108.50 L753.53,109.00 L753.54,109.50 L753.60,110.00 L753.71,110.50 L753.86,111.00 L754.07,111.50 L754.34,112.00 L754.68,112.50 L755.10,113.00 L755.60,113.51 L756.17,114.02 L756.82,114.53 L757.53,115.04 L758.29,115.53 L759.10,116.00 L759.96,116.45 L760.88,116.89 L761.85,117.31 L762.88,117.72 L763.96,118.12 L765.10,118.50 L766.31,118.87 L767.58,119.22 L768.91,119.56 L770.29,119.89 L771.69,120.20 L773.10,120.50 L774.58,120.78 L776.14,121.04 L777.73,121.28 L779.29,121.52 L780.76,121.76 L782.10,122.00 L783.31,122.25 L784.45,122.50 L785.51,122.75 L786.47,123.00 L787.34,123.25 L788.10,123.50 L788.74,123.74 L789.27,123.98 L789.69,124.22 L790.04,124.46 L790.34,124.72 L790.60,125.00 L790.79,125.30 L790.90,125.61 L790.94,125.94 L790.97,126.28 L791.01,126.63 L791.10,127.00 L791.24,127.39 L791.40,127.80 L791.57,128.23 L791.75,128.66 L791.93,129.09 L792.10,129.50 L792.28,129.92 L792.47,130.37 L792.66,130.81 L792.84,131.21 L792.99,131.55 L793.10,131.80 L797.10,131.80 L797.21,131.55 L797.36,131.21 L797.54,130.81 L797.73,130.37 L797.92,129.92 L798.10,129.50 L798.27,129.09 L798.45,128.66 L798.63,128.23 L798.80,127.80 L798.96,127.39 L799.10,127.00 L799.19,126.63 L799.23,126.28 L799.26,125.94 L799.30,125.61 L799.41,125.30 L799.60,125.00 L799.86,124.72 L800.16,124.46 L800.51,124.22 L800.93,123.98 L801.46,123.74 L802.10,123.50 L802.86,123.25 L803.73,123.00 L804.69,122.75 L805.75,122.50 L806.89,122.25 L808.10,122.00 L809.44,121.76 L810.91,121.52 L812.48,121.28 L814.06,121.04 L815.62,120.78 L817.10,120.50 L818.51,120.20 L819.91,119.89 L821.29,119.56 L822.62,119.22 L823.89,118.87 L825.10,118.50 L826.24,118.12 L827.32,117.72 L828.35,117.31 L829.32,116.89 L830.24,116.45 L831.10,116.00 L831.91,115.53 L832.67,115.04 L833.38,114.53 L834.03,114.02 L834.60,113.51 L835.10,113.00 L835.52,112.50 L835.86,112.00 L836.13,111.50 L836.34,111.00 L836.49,110.50 L836.60,110.00 L836.66,109.50 L836.67,109.00 L836.63,108.50 L836.53,108.00 L836.35,107.50 L836.10,107.00 L835.77,106.50 L835.36,106.00 L834.88,105.50 L834.34,105.00 L833.74,104.50 L833.10,104.00 L832.39,103.50 L831.62,103.00 L830.79,102.50 L829.91,102.00 L829.01,101.50 L828.10,101.00 L827.17,100.50 L826.21,100.00 L825.23,99.50 L824.21,99.00 L823.17,98.50 L822.10,98.00 L820.99,97.50 L819.84,97.00 L818.66,96.50 L817.47,96.00 L816.28,95.50 L815.10,95.00 L813.91,94.50 L812.69,94.00 L811.48,93.50 L810.29,93.00 L809.15,92.50 L808.10,92.00 L807.13,91.50 L806.21,91.00 L805.35,90.50 L804.54,90.00 L803.79,89.50 L803.10,89.00 L802.47,88.50 L801.91,88.00 L801.41,87.49 L800.95,86.99 L800.52,86.49 L800.10,86.00 L799.69,85.48 L799.29,84.92 L798.91,84.36 L798.58,83.85 L798.31,83.41 L798.10,83.10 Z" fill="#6495ed" fill-opacity="0.3"/>
<path d="M793.10,93.20 L792.83,93.39 L792.51,93.64 L792.10,93.94 L791.58,94.28 L790.92,94.64 L790.10,95.00 L789.11,95.37 L787.99,95.77 L786.73,96.18 L785.32,96.61 L783.78,97.05 L782.10,97.50 L780.16,97.97 L777.95,98.47 L775.60,98.97 L773.25,99.48 L771.04,99.96 L769.10,100.40 L767.45,100.79 L765.97,101.14 L764.63,101.48 L763.40,101.80 L762.23,102.14 L761.10,102.50 L760.00,102.90 L758.95,103.34 L757.98,103.78 L757.08,104.22 L756.29,104.63 L755.60,105.00 L755.02,105.32 L754.54,105.59 L754.16,105.84 L753.88,106.08 L753.69,106.33 L753.60,106.60 L753.61,106.90 L753.71,107.22 L753.91,107.55 L754.21,107.88 L754.61,108.20 L755.10,108.50 L755.66,108.77 L756.29,109.01 L757.01,109.24 L757.86,109.48 L758.88,109.76 L760.10,110.10 L761.56,110.51 L763.25,110.97 L765.10,111.47 L767.06,111.99 L769.08,112.50 L771.10,113.00 L773.23,113.49 L775.54,113.99 L777.91,114.48 L780.21,114.97 L782.32,115.45 L784.10,115.90 L785.53,116.33 L786.71,116.73 L787.69,117.11 L788.54,117.50 L789.33,117.89 L790.10,118.30 L790.87,118.76 L791.58,119.28 L792.23,119.80 L792.79,120.29 L793.25,120.70 L793.60,121.00 L796.60,121.00 L796.95,120.70 L797.41,120.29 L797.98,119.80 L798.62,119.28 L799.33,118.76 L800.10,118.30 L800.87,117.89 L801.66,117.50 L802.51,117.11 L803.49,116.73 L804.67,116.33 L806.10,115.90 L807.88,115.45 L809.99,114.97 L812.29,114.48 L814.66,113.99 L816.97,113.49 L819.10,113.00 L821.12,112.50 L823.14,111.99 L825.10,111.47 L826.95,110.97 L828.64,110.51 L830.10,110.10 L831.32,109.76 L832.34,109.48 L833.19,109.24 L833.91,109.01 L834.54,108.77 L835.10,108.50 L835.59,108.20 L835.99,107.88 L836.29,107.55 L836.49,107.22 L836.59,106.90 L836.60,106.60 L836.51,106.33 L836.32,106.08 L836.04,105.84 L835.66,105.59 L835.18,105.32 L834.60,105.00 L833.91,104.63 L833.12,104.22 L832.23,103.78 L831.25,103.34 L830.20,102.90 L829.10,102.50 L827.97,102.14 L826.80,101.80 L825.57,101.48 L824.23,101.14 L822.75,100.79 L821.10,100.40 L819.16,99.96 L816.95,99.48 L814.60,98.97 L812.25,98.47 L810.04,97.97 L808.10,97.50 L806.42,97.05 L804.88,96.61 L803.48,96.18 L802.21,95.77 L801.09,95.37 L800.10,95.00 L799.28,94.64 L798.62,94.28 L798.10,93.94 L797.69,93.64 L797.37,93.39 L797.10,93.20 Z" fill="#ff7f50" fill-opacity="0.3"/></g>
<g clip-path="url(#cb)"><path d="M176.10,496.47 L175.96,496.63 L175.77,496.83 L175.55,497.08 L175.31,497.36 L175.09,497.64 L174.90,497.91 L174.74,498.18 L174.58,498.45 L174.44,498.72 L174.31,499.01 L174.19,499.32 L174.10,499.64 L174.03,499.99 L173.97,500.37 L173.94,500.76 L173.91,501.15 L173.90,501.55 L173.90,501.94 L173.91,502.33 L173.93,502.73 L173.97,503.13 L174.01,503.52 L174.06,503.90 L174.10,504.25 L174.15,504.58 L174.21,504.89 L174.27,505.18 L174.33,505.46 L174.37,505.73 L174.40,505.98 L174.42,506.20 L174.44,506.40 L174.46,506.59 L174.44,506.77 L174.40,506.94 L174.30,507.13 L174.19,507.32 L174.08,507.50 L173.94,507.69 L173.72,507.87 L173.39,508.07 L172.90,508.28 L172.23,508.51 L171.39,508.76 L170.44,509.01 L169.42,509.26 L168.39,509.50 L167.40,509.72 L166.42,509.91 L165.42,510.09 L164.40,510.26 L163.38,510.41 L162.38,510.56 L161.40,510.70 L160.46,510.83 L159.55,510.95 L158.65,511.06 L157.75,511.17 L156.84,511.28 L155.90,511.39 L154.93,511.50 L153.94,511.61 L152.93,511.73 L151.92,511.84 L150.91,511.96 L149.90,512.08 L148.89,512.21 L147.88,512.35 L146.87,512.49 L145.86,512.63 L144.87,512.79 L143.90,512.95 L142.92,513.12 L141.91,513.30 L140.92,513.50 L139.98,513.69 L139.13,513.87 L138.40,514.04 L137.81,514.19 L137.34,514.34 L136.95,514.48 L136.63,514.61 L136.35,514.73 L136.10,514.85 L135.87,514.95 L135.70,515.04 L135.56,515.12 L135.47,515.20 L135.42,515.28 L135.40,515.36 L135.42,515.45 L135.47,515.54 L135.56,515.63 L135.70,515.73 L135.87,515.83 L136.10,515.94 L136.35,516.07 L136.63,516.20 L136.95,516.34 L137.34,516.49 L137.81,516.65 L138.40,516.80 L139.13,516.97 L139.98,517.15 L140.92,517.33 L141.91,517.51 L142.92,517.68 L143.90,517.84 L144.87,517.99 L145.86,518.13 L146.87,518.26 L147.88,518.38 L148.89,518.51 L149.90,518.65 L150.91,518.79 L151.92,518.93 L152.93,519.08 L153.94,519.23 L154.93,519.37 L155.90,519.51 L156.84,519.65 L157.75,519.78 L158.65,519.91 L159.55,520.04 L160.46,520.17 L161.40,520.32 L162.38,520.47 L163.38,520.63 L164.40,520.80 L165.42,520.97 L166.42,521.14 L167.40,521.30 L168.39,521.45 L169.42,521.60 L170.43,521.75 L171.38,521.91 L172.22,522.06 L172.90,522.22 L173.39,522.38 L173.71,522.54 L173.93,522.71 L174.09,522.88 L174.23,523.06 L174.40,523.26 L174.61,523.49 L174.81,523.76 L174.99,524.04 L175.16,524.31 L175.30,524.53 L175.40,524.70 L178.40,524.70 L178.50,524.53 L178.64,524.31 L178.81,524.04 L178.99,523.76 L179.19,523.49 L179.40,523.26 L179.57,523.06 L179.71,522.88 L179.87,522.71 L180.09,522.54 L180.41,522.38 L180.90,522.22 L181.58,522.06 L182.42,521.91 L183.37,521.75 L184.38,521.60 L185.41,521.45 L186.40,521.30 L187.38,521.14 L188.38,520.97 L189.40,520.80 L190.42,520.63 L191.42,520.47 L192.40,520.32 L193.34,520.17 L194.25,520.04 L195.15,519.91 L196.05,519.78 L196.96,519.65 L197.90,519.51 L198.87,519.37 L199.86,519.23 L200.87,519.08 L201.88,518.93 L202.89,518.79 L203.90,518.65 L204.91,518.51 L205.92,518.38 L206.93,518.26 L207.94,518.13 L208.93,517.99 L209.90,517.84 L210.88,517.68 L211.89,517.51 L212.88,517.33 L213.82,517.15 L214.67,516.97 L215.40,516.80 L215.99,516.65 L216.46,516.49 L216.85,516.34 L217.17,516.20 L217.45,516.07 L217.70,515.94 L217.93,515.83 L218.10,515.73 L218.24,515.63 L218.33,515.54 L218.38,515.45 L218.40,515.36 L218.38,515.28 L218.33,515.20 L218.24,515.12 L218.10,515.04 L217.93,514.95 L217.70,514.85 L217.45,514.73 L217.17,514.61 L216.85,514.48 L216.46,514.34 L215.99,514.19 L215.40,514.04 L214.67,513.87 L213.82,513.69 L212.88,513.50 L211.89,513.30 L210.88,513.12 L209.90,512.95 L208.93,512.79 L207.94,512.63 L206.93,512.49 L205.92,512.35 L204.91,512.21 L203.90,512.08 L202.89,511.96 L201.88,511.84 L200.87,511.73 L199.86,511.61 L198.87,511.50 L197.90,511.39 L196.96,511.28 L196.05,511.17 L195.15,511.06 L194.25,510.95 L193.34,510.83 L192.40,510.70 L191.42,510.56 L190.42,510.41 L189.40,510.26 L188.38,510.09 L187.38,509.91 L186.40,509.72 L185.41,509.50 L184.38,509.26 L183.36,509.01 L182.41,508.76 L181.57,508.51 L180.90,508.28 L180.41,508.07 L180.08,507.87 L179.86,507.69 L179.72,507.50 L179.61,507.32 L179.50,507.13 L179.40,506.94 L179.36,506.77 L179.34,506.59 L179.36,506.40 L179.38,506.20 L179.40,505.98 L179.43,505.73 L179.47,505.46 L179.53,505.18 L179.59,504.89 L179.65,504.58 L179.70,504.25 L179.74,503.90 L179.79,503.52 L179.83,503.13 L179.87,502.73 L179.89,502.33 L179.90,501.94 L179.90,501.55 L179.89,501.15 L179.86,500.76 L179.83,500.37 L179.77,499.99 L179.70,499.64 L179.61,499.32 L179.49,499.01 L179.36,498.72 L179.22,498.45 L179.06,498.18 L178.90,497.91 L178.71,497.64 L178.49,497.36 L178.25,497.08 L178.03,496.83 L177.84,496.63 L177.70,496.47 Z" fill="#6495ed" fill-opacity="0.3"/>
<path d="M175.70,506.55 L175.69,506.62 L175.68,506.71 L175.67,506.81 L175.63,506.94 L175.55,507.08 L175.40,507.24 L175.22,507.43 L175.03,507.63 L174.79,507.86 L174.48,508.09 L174.06,508.33 L173.50,508.57 L172.76,508.81 L171.86,509.07 L170.84,509.34 L169.78,509.60 L168.71,509.84 L167.70,510.07 L166.73,510.26 L165.76,510.44 L164.79,510.61 L163.83,510.76 L162.86,510.90 L161.90,511.04 L160.95,511.18 L160.00,511.30 L159.05,511.41 L158.10,511.52 L157.15,511.63 L156.20,511.74 L155.24,511.84 L154.27,511.94 L153.31,512.04 L152.34,512.14 L151.37,512.25 L150.40,512.37 L149.43,512.50 L148.46,512.64 L147.49,512.78 L146.53,512.93 L145.56,513.08 L144.60,513.23 L143.61,513.39 L142.59,513.56 L141.56,513.73 L140.58,513.90 L139.68,514.06 L138.90,514.21 L138.24,514.35 L137.67,514.47 L137.19,514.59 L136.77,514.70 L136.41,514.81 L136.10,514.90 L135.85,514.99 L135.66,515.07 L135.53,515.14 L135.45,515.21 L135.41,515.28 L135.40,515.36 L135.41,515.45 L135.45,515.54 L135.53,515.63 L135.66,515.73 L135.85,515.83 L136.10,515.94 L136.41,516.05 L136.77,516.17 L137.19,516.30 L137.67,516.43 L138.24,516.56 L138.90,516.69 L139.68,516.83 L140.58,516.97 L141.56,517.12 L142.59,517.27 L143.61,517.41 L144.60,517.55 L145.56,517.69 L146.53,517.82 L147.49,517.96 L148.46,518.09 L149.43,518.22 L150.40,518.36 L151.37,518.50 L152.34,518.65 L153.31,518.79 L154.27,518.94 L155.24,519.08 L156.20,519.22 L157.15,519.36 L158.10,519.49 L159.05,519.62 L160.00,519.75 L160.95,519.89 L161.90,520.03 L162.86,520.18 L163.83,520.35 L164.79,520.52 L165.76,520.69 L166.73,520.85 L167.70,521.01 L168.72,521.17 L169.81,521.33 L170.91,521.48 L171.93,521.63 L172.82,521.76 L173.50,521.87 L173.94,521.96 L174.20,522.02 L174.31,522.07 L174.35,522.11 L174.36,522.14 L174.40,522.16 L179.40,522.16 L179.44,522.14 L179.45,522.11 L179.49,522.07 L179.60,522.02 L179.86,521.96 L180.30,521.87 L180.98,521.76 L181.87,521.63 L182.89,521.48 L183.99,521.33 L185.08,521.17 L186.10,521.01 L187.07,520.85 L188.04,520.69 L189.01,520.52 L189.97,520.35 L190.94,520.18 L191.90,520.03 L192.85,519.89 L193.80,519.75 L194.75,519.62 L195.70,519.49 L196.65,519.36 L197.60,519.22 L198.56,519.08 L199.53,518.94 L200.49,518.79 L201.46,518.65 L202.43,518.50 L203.40,518.36 L204.37,518.22 L205.34,518.09 L206.31,517.96 L207.27,517.82 L208.24,517.69 L209.20,517.55 L210.19,517.41 L211.21,517.27 L212.24,517.12 L213.22,516.97 L214.12,516.83 L214.90,516.69 L215.56,516.56 L216.13,516.43 L216.61,516.30 L217.03,516.17 L217.39,516.05 L217.70,515.94 L217.95,515.83 L218.14,515.73 L218.27,515.63 L218.35,515.54 L218.39,515.45 L218.40,515.36 L218.39,515.28 L218.35,515.21 L218.27,515.14 L218.14,515.07 L217.95,514.99 L217.70,514.90 L217.39,514.81 L217.03,514.70 L216.61,514.59 L216.13,514.47 L215.56,514.35 L214.90,514.21 L214.12,514.06 L213.22,513.90 L212.24,513.73 L211.21,513.56 L210.19,513.39 L209.20,513.23 L208.24,513.08 L207.27,512.93 L206.31,512.78 L205.34,512.64 L204.37,512.50 L203.40,512.37 L202.43,512.25 L201.46,512.14 L200.49,512.04 L199.53,511.94 L198.56,511.84 L197.60,511.74 L196.65,511.63 L195.70,511.52 L194.75,511.41 L193.80,511.30 L192.85,511.18 L191.90,511.04 L190.94,510.90 L189.97,510.76 L189.01,510.61 L188.04,510.44 L187.07,510.26 L186.10,510.07 L185.09,509.84 L184.02,509.60 L182.96,509.34 L181.94,509.07 L181.04,508.81 L180.30,508.57 L179.74,508.33 L179.32,508.09 L179.01,507.86 L178.77,507.63 L178.58,507.43 L178.40,507.24 L178.25,507.08 L178.17,506.94 L178.13,506.81 L178.12,506.71 L178.11,506.62 L178.10,506.55 Z" fill="#ff7f50" fill-opacity="0.3"/>
<path d="M643.80,485.34 L643.66,485.67 L643.47,486.13 L643.25,486.68 L643.01,487.27 L642.79,487.85 L642.60,488.39 L642.45,488.89 L642.33,489.39 L642.22,489.90 L642.11,490.38 L641.97,490.84 L641.80,491.27 L641.60,491.65 L641.39,491.98 L641.16,492.30 L640.90,492.60 L640.58,492.90 L640.20,493.23 L639.73,493.57 L639.19,493.92 L638.59,494.28 L637.97,494.63 L637.36,494.97 L636.80,495.30 L636.32,495.59 L635.92,495.86 L635.52,496.11 L635.08,496.38 L634.53,496.68 L633.80,497.03 L632.88,497.44 L631.80,497.89 L630.61,498.38 L629.36,498.88 L628.07,499.40 L626.80,499.91 L625.50,500.43 L624.13,500.96 L622.74,501.51 L621.36,502.05 L620.03,502.58 L618.80,503.08 L617.67,503.54 L616.61,503.98 L615.61,504.40 L614.65,504.81 L613.72,505.23 L612.80,505.67 L611.89,506.12 L611.00,506.57 L610.14,507.03 L609.32,507.49 L608.53,507.96 L607.80,508.43 L607.10,508.93 L606.43,509.44 L605.81,509.95 L605.23,510.46 L604.73,510.96 L604.30,511.43 L603.93,511.86 L603.62,512.26 L603.37,512.65 L603.20,513.04 L603.14,513.43 L603.20,513.85 L603.39,514.29 L603.70,514.75 L604.12,515.22 L604.62,515.69 L605.18,516.16 L605.80,516.61 L606.49,517.05 L607.29,517.49 L608.15,517.92 L609.04,518.34 L609.94,518.75 L610.80,519.15 L611.63,519.51 L612.47,519.86 L613.30,520.19 L614.13,520.52 L614.97,520.86 L615.80,521.22 L616.63,521.60 L617.45,522.00 L618.27,522.40 L619.10,522.82 L619.94,523.25 L620.80,523.70 L621.67,524.15 L622.54,524.62 L623.43,525.10 L624.33,525.60 L625.25,526.11 L626.20,526.63 L627.17,527.19 L628.17,527.77 L629.19,528.36 L630.22,528.96 L631.26,529.56 L632.30,530.15 L633.39,530.73 L634.55,531.31 L635.72,531.90 L636.84,532.48 L637.85,533.05 L638.70,533.60 L639.37,534.16 L639.89,534.71 L640.31,535.25 L640.66,535.78 L640.97,536.29 L641.30,536.77 L641.63,537.22 L641.92,537.62 L642.19,538.00 L642.42,538.39 L642.63,538.80 L642.80,539.25 L642.93,539.73 L643.03,540.23 L643.09,540.76 L643.13,541.31 L643.16,541.90 L643.20,542.53 L643.24,543.18 L643.27,543.82 L643.29,544.50 L643.31,545.26 L643.31,546.12 L643.30,547.14 L643.28,548.36 L643.25,549.76 L643.21,551.28 L643.15,552.84 L643.08,554.36 L643.00,555.78 L642.89,557.09 L642.76,558.34 L642.61,559.56 L642.46,560.77 L642.32,562.00 L642.20,563.27 L642.10,564.58 L642.01,565.91 L641.94,567.26 L641.87,568.62 L641.83,569.98 L641.80,571.33 L641.79,572.72 L641.81,574.15 L641.84,575.58 L641.88,576.96 L641.94,578.25 L642.00,579.40 L642.07,580.36 L642.14,581.17 L642.22,581.88 L642.33,582.55 L642.45,583.24 L642.60,584.00 L642.80,584.89 L643.06,585.88 L643.34,586.88 L643.61,587.82 L643.84,588.62 L644.00,589.19 L645.60,589.19 L645.76,588.62 L645.99,587.82 L646.26,586.88 L646.54,585.88 L646.80,584.89 L647.00,584.00 L647.15,583.24 L647.27,582.55 L647.38,581.88 L647.46,581.17 L647.53,580.36 L647.60,579.40 L647.66,578.25 L647.72,576.96 L647.76,575.58 L647.79,574.15 L647.81,572.72 L647.80,571.33 L647.77,569.98 L647.73,568.62 L647.66,567.26 L647.59,565.91 L647.50,564.58 L647.40,563.27 L647.28,562.00 L647.14,560.77 L646.99,559.56 L646.84,558.34 L646.71,557.09 L646.60,555.78 L646.52,554.36 L646.45,552.84 L646.39,551.28 L646.35,549.76 L646.32,548.36 L646.30,547.14 L646.29,546.12 L646.29,545.26 L646.31,544.50 L646.33,543.82 L646.36,543.18 L646.40,542.53 L646.44,541.90 L646.47,541.31 L646.51,540.76 L646.57,540.23 L646.67,539.73 L646.80,539.25 L646.97,538.80 L647.18,538.39 L647.41,538.00 L647.68,537.62 L647.97,537.22 L648.30,536.77 L648.63,536.29 L648.94,535.78 L649.29,535.25 L649.71,534.71 L650.23,534.16 L650.90,533.60 L651.75,533.05 L652.76,532.48 L653.88,531.90 L655.05,531.31 L656.21,530.73 L657.30,530.15 L658.34,529.56 L659.38,528.96 L660.41,528.36 L661.43,527.77 L662.43,527.19 L663.40,526.63 L664.35,526.11 L665.27,525.60 L666.17,525.10 L667.06,524.62 L667.93,524.15 L668.80,523.70 L669.66,523.25 L670.50,522.82 L671.32,522.40 L672.15,522.00 L672.97,521.60 L673.80,521.22 L674.63,520.86 L675.47,520.52 L676.30,520.19 L677.13,519.86 L677.97,519.51 L678.80,519.15 L679.66,518.75 L680.56,518.34 L681.45,517.92 L682.31,517.49 L683.11,517.05 L683.80,516.61 L684.42,516.16 L684.98,515.69 L685.48,515.22 L685.90,514.75 L686.21,514.29 L686.40,513.85 L686.46,513.43 L686.40,513.04 L686.23,512.65 L685.98,512.26 L685.67,511.86 L685.30,511.43 L684.87,510.96 L684.37,510.46 L683.79,509.95 L683.17,509.44 L682.50,508.93 L681.80,508.43 L681.07,507.96 L680.28,507.49 L679.46,507.03 L678.60,506.57 L677.71,506.12 L676.80,505.67 L675.88,505.23 L674.95,504.81 L673.99,504.40 L672.99,503.98 L671.93,503.54 L670.80,503.08 L669.57,502.58 L668.24,502.05 L666.86,501.51 L665.47,500.96 L664.10,500.43 L662.80,499.91 L661.53,499.40 L660.24,498.88 L658.99,498.38 L657.80,497.89 L656.72,497.44 L655.80,497.03 L655.07,496.68 L654.52,496.38 L654.07,496.11 L653.68,495.86 L653.28,495.59 L652.80,495.30 L652.24,494.97 L651.63,494.63 L651.01,494.28 L650.41,493.92 L649.87,493.57 L649.40,493.23 L649.02,492.90 L648.70,492.60 L648.44,492.30 L648.21,491.98 L648.00,491.65 L647.80,491.27 L647.62,490.84 L647.49,490.38 L647.38,489.90 L647.27,489.39 L647.15,488.89 L647.00,488.39 L646.81,487.85 L646.59,487.27 L646.35,486.68 L646.13,486.13 L645.94,485.67 L645.80,485.34 Z" fill="#6495ed" fill-opacity="0.3"/>
<path d="M642.30,491.04 L642.09,491.28 L641.80,491.61 L641.46,492.00 L641.07,492.42 L640.65,492.84 L640.20,493.23 L639.71,493.58 L639.17,493.94 L638.59,494.29 L637.99,494.64 L637.39,494.98 L636.80,495.30 L636.27,495.59 L635.79,495.86 L635.31,496.11 L634.77,496.38 L634.12,496.68 L633.30,497.03 L632.29,497.44 L631.13,497.89 L629.86,498.38 L628.51,498.88 L627.15,499.40 L625.80,499.91 L624.44,500.43 L623.04,500.96 L621.61,501.51 L620.17,502.05 L618.76,502.58 L617.40,503.08 L616.06,503.54 L614.71,503.98 L613.39,504.40 L612.11,504.81 L610.91,505.23 L609.80,505.67 L608.78,506.13 L607.81,506.61 L606.92,507.10 L606.12,507.57 L605.41,508.02 L604.80,508.43 L604.31,508.79 L603.91,509.10 L603.62,509.38 L603.41,509.66 L603.27,509.95 L603.20,510.28 L603.20,510.63 L603.28,510.99 L603.43,511.36 L603.66,511.75 L603.95,512.16 L604.30,512.58 L604.72,513.03 L605.21,513.50 L605.77,513.98 L606.40,514.48 L607.07,514.97 L607.80,515.46 L608.61,515.94 L609.52,516.42 L610.49,516.90 L611.47,517.38 L612.42,517.86 L613.30,518.34 L614.13,518.82 L614.93,519.31 L615.71,519.81 L616.45,520.29 L617.15,520.76 L617.80,521.22 L618.39,521.65 L618.91,522.06 L619.39,522.45 L619.86,522.85 L620.32,523.26 L620.80,523.70 L621.26,524.15 L621.69,524.62 L622.11,525.10 L622.57,525.60 L623.12,526.11 L623.80,526.63 L624.65,527.19 L625.63,527.77 L626.70,528.36 L627.80,528.96 L628.89,529.56 L629.90,530.15 L630.87,530.73 L631.84,531.30 L632.79,531.88 L633.70,532.45 L634.54,533.03 L635.30,533.60 L635.96,534.20 L636.55,534.82 L637.07,535.44 L637.54,536.05 L637.98,536.61 L638.40,537.12 L638.79,537.54 L639.14,537.89 L639.45,538.20 L639.74,538.50 L640.02,538.84 L640.30,539.25 L640.58,539.74 L640.85,540.29 L641.11,540.88 L641.35,541.47 L641.58,542.03 L641.80,542.53 L642.00,542.98 L642.19,543.40 L642.36,543.78 L642.52,544.15 L642.67,544.50 L642.80,544.84 L642.92,545.17 L643.02,545.50 L643.11,545.82 L643.19,546.10 L643.25,546.33 L643.30,546.51 L646.30,546.51 L646.35,546.33 L646.41,546.10 L646.49,545.82 L646.58,545.50 L646.68,545.17 L646.80,544.84 L646.93,544.50 L647.08,544.15 L647.24,543.78 L647.41,543.40 L647.60,542.98 L647.80,542.53 L648.02,542.03 L648.25,541.47 L648.49,540.88 L648.75,540.29 L649.02,539.74 L649.30,539.25 L649.58,538.84 L649.86,538.50 L650.15,538.20 L650.46,537.89 L650.81,537.54 L651.20,537.12 L651.62,536.61 L652.06,536.05 L652.53,535.44 L653.05,534.82 L653.64,534.20 L654.30,533.60 L655.06,533.03 L655.90,532.45 L656.81,531.88 L657.76,531.30 L658.73,530.73 L659.70,530.15 L660.71,529.56 L661.80,528.96 L662.90,528.36 L663.97,527.77 L664.95,527.19 L665.80,526.63 L666.48,526.11 L667.03,525.60 L667.49,525.10 L667.91,524.62 L668.34,524.15 L668.80,523.70 L669.28,523.26 L669.74,522.85 L670.21,522.45 L670.69,522.06 L671.21,521.65 L671.80,521.22 L672.45,520.76 L673.15,520.29 L673.89,519.81 L674.67,519.31 L675.47,518.82 L676.30,518.34 L677.18,517.86 L678.13,517.38 L679.11,516.90 L680.08,516.42 L680.99,515.94 L681.80,515.46 L682.53,514.97 L683.20,514.48 L683.82,513.98 L684.39,513.50 L684.88,513.03 L685.30,512.58 L685.65,512.16 L685.94,511.75 L686.17,511.36 L686.32,510.99 L686.40,510.63 L686.40,510.28 L686.33,509.95 L686.19,509.66 L685.98,509.38 L685.69,509.10 L685.29,508.79 L684.80,508.43 L684.19,508.02 L683.48,507.57 L682.67,507.10 L681.79,506.61 L680.82,506.13 L679.80,505.67 L678.69,505.23 L677.49,504.81 L676.21,504.40 L674.89,503.98 L673.54,503.54 L672.20,503.08 L670.84,502.58 L669.43,502.05 L667.99,501.51 L666.56,500.96 L665.16,500.43 L663.80,499.91 L662.45,499.40 L661.09,498.88 L659.74,498.38 L658.47,497.89 L657.31,497.44 L656.30,497.03 L655.48,496.68 L654.83,496.38 L654.29,496.11 L653.81,495.86 L653.33,495.59 L652.80,495.30 L652.21,494.98 L651.61,494.64 L651.01,494.29 L650.43,493.94 L649.89,493.58 L649.40,493.23 L648.95,492.84 L648.53,492.42 L648.14,492.00 L647.80,491.61 L647.51,491.28 L647.30,491.04 Z" fill="#ff7f50" fill-opacity="0.3"/>
<path d="M681.80,470.76 L681.75,471.22 L681.67,471.85 L681.58,472.60 L681.49,473.42 L681.39,474.24 L681.30,475.02 L681.21,475.79 L681.12,476.62 L681.03,477.45 L680.94,478.25 L680.87,478.99 L680.80,479.63 L680.75,480.14 L680.72,480.55 L680.69,480.90 L680.67,481.22 L680.64,481.55 L680.60,481.93 L680.55,482.36 L680.51,482.82 L680.46,483.28 L680.39,483.74 L680.31,484.18 L680.20,484.58 L680.07,484.95 L679.91,485.29 L679.74,485.61 L679.54,485.92 L679.33,486.23 L679.10,486.54 L678.86,486.85 L678.62,487.16 L678.36,487.47 L678.07,487.77 L677.72,488.07 L677.30,488.38 L676.81,488.70 L676.26,489.01 L675.65,489.33 L675.00,489.65 L674.31,489.97 L673.60,490.28 L672.84,490.60 L672.01,490.92 L671.15,491.24 L670.28,491.56 L669.42,491.87 L668.60,492.18 L667.81,492.49 L667.04,492.80 L666.28,493.10 L665.54,493.41 L664.81,493.71 L664.10,494.03 L663.46,494.33 L662.89,494.63 L662.34,494.92 L661.75,495.24 L661.06,495.59 L660.20,495.99 L659.11,496.46 L657.81,497.00 L656.41,497.58 L655.00,498.16 L653.70,498.71 L652.60,499.21 L651.72,499.65 L650.98,500.05 L650.34,500.42 L649.76,500.78 L649.20,501.14 L648.60,501.52 L647.99,501.90 L647.41,502.28 L646.84,502.67 L646.27,503.05 L645.69,503.44 L645.10,503.82 L644.44,504.20 L643.70,504.59 L642.96,504.97 L642.27,505.36 L641.70,505.74 L641.30,506.12 L641.09,506.51 L641.01,506.89 L641.06,507.28 L641.19,507.66 L641.38,508.04 L641.60,508.43 L641.87,508.81 L642.20,509.20 L642.59,509.58 L643.04,509.96 L643.54,510.35 L644.10,510.73 L644.73,511.12 L645.43,511.50 L646.19,511.88 L646.99,512.27 L647.80,512.65 L648.60,513.04 L649.40,513.42 L650.23,513.80 L651.07,514.19 L651.91,514.57 L652.76,514.96 L653.60,515.34 L654.46,515.72 L655.34,516.11 L656.23,516.49 L657.08,516.88 L657.88,517.26 L658.60,517.64 L659.23,518.03 L659.79,518.41 L660.29,518.79 L660.75,519.17 L661.18,519.56 L661.60,519.95 L661.97,520.33 L662.27,520.71 L662.54,521.09 L662.82,521.49 L663.16,521.91 L663.60,522.37 L664.15,522.87 L664.79,523.40 L665.49,523.96 L666.21,524.53 L666.92,525.12 L667.60,525.71 L668.25,526.30 L668.90,526.92 L669.55,527.54 L670.19,528.17 L670.80,528.79 L671.40,529.39 L671.97,529.99 L672.52,530.58 L673.05,531.17 L673.57,531.75 L674.09,532.33 L674.60,532.91 L675.12,533.49 L675.65,534.06 L676.18,534.64 L676.68,535.21 L677.16,535.79 L677.60,536.36 L678.00,536.95 L678.37,537.53 L678.71,538.12 L679.03,538.70 L679.32,539.29 L679.60,539.88 L679.86,540.46 L680.09,541.04 L680.31,541.63 L680.50,542.21 L680.66,542.80 L680.80,543.39 L680.91,543.96 L680.98,544.51 L681.02,545.07 L681.06,545.65 L681.08,546.29 L681.10,547.02 L681.12,547.86 L681.12,548.78 L681.11,549.77 L681.10,550.78 L681.10,551.80 L681.10,552.78 L681.11,553.76 L681.11,554.76 L681.11,555.76 L681.13,556.74 L681.15,557.67 L681.20,558.54 L681.28,559.37 L681.39,560.20 L681.51,560.97 L681.63,561.67 L681.73,562.25 L681.80,562.69 L683.40,562.69 L683.47,562.25 L683.57,561.67 L683.69,560.97 L683.81,560.20 L683.92,559.37 L684.00,558.54 L684.05,557.67 L684.07,556.74 L684.09,555.76 L684.09,554.76 L684.09,553.76 L684.10,552.78 L684.10,551.80 L684.10,550.78 L684.09,549.77 L684.08,548.78 L684.08,547.86 L684.10,547.02 L684.12,546.29 L684.14,545.65 L684.18,545.07 L684.22,544.51 L684.29,543.96 L684.40,543.39 L684.54,542.80 L684.70,542.21 L684.89,541.63 L685.11,541.04 L685.34,540.46 L685.60,539.88 L685.88,539.29 L686.17,538.70 L686.49,538.12 L686.83,537.53 L687.20,536.95 L687.60,536.36 L688.04,535.79 L688.52,535.21 L689.02,534.64 L689.55,534.06 L690.08,533.49 L690.60,532.91 L691.11,532.33 L691.63,531.75 L692.15,531.17 L692.68,530.58 L693.23,529.99 L693.80,529.39 L694.40,528.79 L695.01,528.17 L695.65,527.54 L696.30,526.92 L696.95,526.30 L697.60,525.71 L698.28,525.12 L698.99,524.53 L699.71,523.96 L700.41,523.40 L701.05,522.87 L701.60,522.37 L702.04,521.91 L702.38,521.49 L702.66,521.09 L702.93,520.71 L703.23,520.33 L703.60,519.95 L704.02,519.56 L704.45,519.17 L704.91,518.79 L705.41,518.41 L705.97,518.03 L706.60,517.64 L707.32,517.26 L708.12,516.88 L708.98,516.49 L709.86,516.11 L710.74,515.72 L711.60,515.34 L712.44,514.96 L713.29,514.57 L714.13,514.19 L714.97,513.80 L715.80,513.42 L716.60,513.04 L717.40,512.65 L718.21,512.27 L719.01,511.88 L719.77,511.50 L720.47,511.12 L721.10,510.73 L721.66,510.35 L722.16,509.96 L722.61,509.58 L723.00,509.20 L723.33,508.81 L723.60,508.43 L723.82,508.04 L724.01,507.66 L724.14,507.28 L724.19,506.89 L724.11,506.51 L723.90,506.12 L723.50,505.74 L722.93,505.36 L722.24,504.97 L721.50,504.59 L720.76,504.20 L720.10,503.82 L719.51,503.44 L718.93,503.05 L718.36,502.67 L717.79,502.28 L717.21,501.90 L716.60,501.52 L716.00,501.14 L715.44,500.78 L714.86,500.42 L714.22,500.05 L713.48,499.65 L712.60,499.21 L711.50,498.71 L710.20,498.16 L708.79,497.58 L707.39,497.00 L706.09,496.46 L705.00,495.99 L704.14,495.59 L703.45,495.24 L702.86,494.92 L702.31,494.63 L701.74,494.33 L701.10,494.03 L700.39,493.71 L699.66,493.41 L698.92,493.10 L698.16,492.80 L697.39,492.49 L696.60,492.18 L695.78,491.87 L694.92,491.56 L694.05,491.24 L693.19,490.92 L692.36,490.60 L691.60,490.28 L690.89,489.97 L690.20,489.65 L689.55,489.33 L688.94,489.01 L688.39,488.70 L687.90,488.38 L687.48,488.07 L687.13,487.77 L686.84,487.47 L686.58,487.16 L686.34,486.85 L686.10,486.54 L685.87,486.23 L685.66,485.92 L685.46,485.61 L685.29,485.29 L685.13,484.95 L685.00,484.58 L684.89,484.18 L684.81,483.74 L684.74,483.28 L684.69,482.82 L684.65,482.36 L684.60,481.93 L684.56,481.55 L684.53,481.22 L684.51,480.90 L684.48,480.55 L684.45,480.14 L684.40,479.63 L684.33,478.99 L684.26,478.25 L684.17,477.45 L684.08,476.62 L683.99,475.79 L683.90,475.02 L683.81,474.24 L683.71,473.42 L683.62,472.60 L683.53,471.85 L683.45,471.22 L683.40,470.76 Z" fill="#6495ed" fill-opacity="0.3"/>
<path d="M674.60,492.24 L674.31,492.36 L673.93,492.51 L673.48,492.69 L672.93,492.91 L672.31,493.16 L671.60,493.45 L670.77,493.79 L669.82,494.17 L668.79,494.59 L667.71,495.04 L666.63,495.51 L665.60,495.99 L664.59,496.49 L663.56,497.04 L662.54,497.61 L661.53,498.18 L660.54,498.72 L659.60,499.21 L658.70,499.65 L657.82,500.05 L656.98,500.42 L656.16,500.78 L655.36,501.14 L654.60,501.52 L653.86,501.90 L653.16,502.28 L652.48,502.67 L651.82,503.05 L651.20,503.44 L650.60,503.82 L650.05,504.20 L649.54,504.59 L649.07,504.97 L648.60,505.36 L648.12,505.74 L647.60,506.12 L647.04,506.49 L646.44,506.85 L645.84,507.20 L645.23,507.57 L644.65,507.98 L644.10,508.43 L643.53,508.95 L642.93,509.53 L642.34,510.15 L641.83,510.77 L641.46,511.35 L641.30,511.88 L641.37,512.35 L641.63,512.78 L642.02,513.17 L642.52,513.55 L643.06,513.93 L643.60,514.30 L644.16,514.68 L644.77,515.04 L645.43,515.40 L646.13,515.76 L646.86,516.12 L647.60,516.49 L648.34,516.86 L649.09,517.22 L649.86,517.59 L650.69,517.97 L651.59,518.39 L652.60,518.85 L653.79,519.38 L655.16,519.97 L656.61,520.59 L658.04,521.21 L659.33,521.81 L660.40,522.37 L661.20,522.87 L661.81,523.34 L662.30,523.79 L662.72,524.23 L663.13,524.68 L663.60,525.13 L664.12,525.60 L664.63,526.09 L665.14,526.57 L665.64,527.05 L666.13,527.51 L666.60,527.95 L667.05,528.37 L667.49,528.77 L667.91,529.15 L668.32,529.53 L668.72,529.91 L669.10,530.32 L669.45,530.72 L669.76,531.13 L670.05,531.54 L670.36,531.97 L670.70,532.42 L671.10,532.91 L671.59,533.43 L672.16,533.99 L672.76,534.58 L673.36,535.18 L673.92,535.77 L674.40,536.36 L674.79,536.95 L675.12,537.53 L675.41,538.12 L675.69,538.70 L675.98,539.29 L676.30,539.88 L676.68,540.48 L677.10,541.10 L677.52,541.72 L677.94,542.32 L678.30,542.89 L678.60,543.39 L678.81,543.83 L678.95,544.21 L679.04,544.55 L679.12,544.87 L679.20,545.19 L679.30,545.52 L679.42,545.87 L679.54,546.21 L679.66,546.55 L679.79,546.89 L679.94,547.24 L680.10,547.60 L680.30,547.99 L680.54,548.43 L680.80,548.88 L681.04,549.29 L681.25,549.65 L681.40,549.90 L683.80,549.90 L683.95,549.65 L684.16,549.29 L684.40,548.88 L684.66,548.43 L684.90,547.99 L685.10,547.60 L685.26,547.24 L685.41,546.89 L685.54,546.55 L685.66,546.21 L685.78,545.87 L685.90,545.52 L686.00,545.19 L686.08,544.87 L686.16,544.55 L686.25,544.21 L686.39,543.83 L686.60,543.39 L686.90,542.89 L687.26,542.32 L687.68,541.72 L688.10,541.10 L688.52,540.48 L688.90,539.88 L689.22,539.29 L689.51,538.70 L689.79,538.12 L690.08,537.53 L690.41,536.95 L690.80,536.36 L691.28,535.77 L691.84,535.18 L692.44,534.58 L693.04,533.99 L693.61,533.43 L694.10,532.91 L694.50,532.42 L694.84,531.97 L695.15,531.54 L695.44,531.13 L695.75,530.72 L696.10,530.32 L696.48,529.91 L696.88,529.53 L697.29,529.15 L697.71,528.77 L698.15,528.37 L698.60,527.95 L699.07,527.51 L699.56,527.05 L700.06,526.57 L700.57,526.09 L701.08,525.60 L701.60,525.13 L702.07,524.68 L702.48,524.23 L702.90,523.79 L703.39,523.34 L704.00,522.87 L704.80,522.37 L705.87,521.81 L707.16,521.21 L708.59,520.59 L710.04,519.97 L711.41,519.38 L712.60,518.85 L713.61,518.39 L714.51,517.97 L715.34,517.59 L716.11,517.22 L716.86,516.86 L717.60,516.49 L718.34,516.12 L719.07,515.76 L719.77,515.40 L720.43,515.04 L721.04,514.68 L721.60,514.30 L722.14,513.93 L722.68,513.55 L723.18,513.17 L723.57,512.78 L723.83,512.35 L723.90,511.88 L723.74,511.35 L723.37,510.77 L722.86,510.15 L722.27,509.53 L721.67,508.95 L721.10,508.43 L720.55,507.98 L719.97,507.57 L719.36,507.20 L718.76,506.85 L718.16,506.49 L717.60,506.12 L717.08,505.74 L716.60,505.36 L716.13,504.97 L715.66,504.59 L715.15,504.20 L714.60,503.82 L714.00,503.44 L713.38,503.05 L712.73,502.67 L712.04,502.28 L711.34,501.90 L710.60,501.52 L709.84,501.14 L709.04,500.78 L708.23,500.42 L707.38,500.05 L706.50,499.65 L705.60,499.21 L704.66,498.72 L703.67,498.18 L702.66,497.61 L701.64,497.04 L700.61,496.49 L699.60,495.99 L698.57,495.51 L697.49,495.04 L696.41,494.59 L695.38,494.17 L694.43,493.79 L693.60,493.45 L692.89,493.16 L692.27,492.91 L691.73,492.69 L691.27,492.51 L690.89,492.36 L690.60,492.24 Z" fill="#ff7f50" fill-opacity="0.3"/>
<path d="M789.60,494.44 L789.47,494.63 L789.28,494.89 L789.06,495.19 L788.83,495.53 L788.60,495.88 L788.40,496.23 L788.23,496.58 L788.07,496.96 L787.92,497.35 L787.76,497.75 L787.59,498.14 L787.40,498.53 L787.19,498.92 L786.97,499.30 L786.74,499.69 L786.49,500.07 L786.21,500.45 L785.90,500.84 L785.55,501.23 L785.16,501.63 L784.74,502.03 L784.31,502.42 L783.86,502.79 L783.40,503.14 L782.98,503.46 L782.59,503.74 L782.18,504.01 L781.71,504.27 L781.14,504.56 L780.40,504.87 L779.48,505.22 L778.40,505.61 L777.21,506.00 L775.96,506.41 L774.67,506.80 L773.40,507.17 L772.10,507.53 L770.73,507.88 L769.34,508.22 L767.96,508.55 L766.63,508.88 L765.40,509.19 L764.29,509.48 L763.27,509.75 L762.31,510.01 L761.36,510.27 L760.41,510.55 L759.40,510.86 L758.31,511.20 L757.15,511.57 L755.98,511.95 L754.85,512.35 L753.80,512.73 L752.90,513.11 L752.13,513.47 L751.47,513.84 L750.89,514.20 L750.39,514.56 L749.96,514.91 L749.60,515.24 L749.31,515.54 L749.09,515.82 L748.95,516.09 L748.87,516.36 L748.86,516.65 L748.90,516.97 L749.01,517.32 L749.18,517.69 L749.42,518.08 L749.71,518.48 L750.04,518.88 L750.40,519.27 L750.80,519.65 L751.25,520.03 L751.74,520.40 L752.27,520.78 L752.82,521.17 L753.40,521.57 L754.03,522.00 L754.71,522.46 L755.43,522.92 L756.14,523.38 L756.81,523.82 L757.40,524.22 L757.90,524.59 L758.34,524.91 L758.74,525.22 L759.12,525.53 L759.50,525.84 L759.90,526.18 L760.31,526.54 L760.71,526.91 L761.12,527.29 L761.53,527.68 L761.95,528.08 L762.40,528.49 L762.84,528.90 L763.25,529.34 L763.68,529.78 L764.16,530.22 L764.72,530.66 L765.40,531.08 L766.21,531.48 L767.14,531.86 L768.15,532.23 L769.21,532.60 L770.31,532.98 L771.40,533.38 L772.53,533.79 L773.73,534.21 L774.96,534.64 L776.18,535.08 L777.34,535.52 L778.40,535.97 L779.37,536.43 L780.29,536.90 L781.15,537.38 L781.96,537.86 L782.71,538.35 L783.40,538.85 L784.03,539.37 L784.59,539.89 L785.10,540.42 L785.56,540.96 L785.99,541.49 L786.40,542.02 L786.77,542.55 L787.10,543.06 L787.40,543.58 L787.67,544.10 L787.94,544.64 L788.20,545.19 L788.47,545.80 L788.75,546.48 L789.01,547.17 L789.25,547.82 L789.45,548.37 L789.60,548.76 L791.20,548.76 L791.35,548.37 L791.55,547.82 L791.79,547.17 L792.05,546.48 L792.33,545.80 L792.60,545.19 L792.86,544.64 L793.13,544.10 L793.40,543.58 L793.70,543.06 L794.03,542.55 L794.40,542.02 L794.81,541.49 L795.24,540.96 L795.70,540.42 L796.21,539.89 L796.77,539.37 L797.40,538.85 L798.09,538.35 L798.84,537.86 L799.65,537.38 L800.51,536.90 L801.43,536.43 L802.40,535.97 L803.46,535.52 L804.62,535.08 L805.84,534.64 L807.07,534.21 L808.27,533.79 L809.40,533.38 L810.49,532.98 L811.59,532.60 L812.65,532.23 L813.66,531.86 L814.59,531.48 L815.40,531.08 L816.08,530.66 L816.64,530.22 L817.12,529.78 L817.55,529.34 L817.96,528.90 L818.40,528.49 L818.85,528.08 L819.27,527.68 L819.68,527.29 L820.09,526.91 L820.49,526.54 L820.90,526.18 L821.30,525.84 L821.68,525.53 L822.06,525.22 L822.46,524.91 L822.90,524.59 L823.40,524.22 L823.99,523.82 L824.66,523.38 L825.37,522.92 L826.09,522.46 L826.77,522.00 L827.40,521.57 L827.98,521.17 L828.53,520.78 L829.06,520.40 L829.55,520.03 L830.00,519.65 L830.40,519.27 L830.76,518.88 L831.09,518.48 L831.38,518.08 L831.62,517.69 L831.79,517.32 L831.90,516.97 L831.94,516.65 L831.93,516.36 L831.85,516.09 L831.71,515.82 L831.49,515.54 L831.20,515.24 L830.84,514.91 L830.41,514.56 L829.91,514.20 L829.33,513.84 L828.67,513.47 L827.90,513.11 L827.00,512.73 L825.95,512.35 L824.82,511.95 L823.65,511.57 L822.49,511.20 L821.40,510.86 L820.39,510.55 L819.44,510.27 L818.49,510.01 L817.53,509.75 L816.51,509.48 L815.40,509.19 L814.17,508.88 L812.84,508.55 L811.46,508.22 L810.07,507.88 L808.70,507.53 L807.40,507.17 L806.13,506.80 L804.84,506.41 L803.59,506.00 L802.40,505.61 L801.32,505.22 L800.40,504.87 L799.66,504.56 L799.09,504.27 L798.62,504.01 L798.21,503.74 L797.82,503.46 L797.40,503.14 L796.94,502.79 L796.49,502.42 L796.06,502.03 L795.64,501.63 L795.25,501.23 L794.90,500.84 L794.59,500.45 L794.31,500.07 L794.06,499.69 L793.83,499.30 L793.61,498.92 L793.40,498.53 L793.21,498.14 L793.04,497.75 L792.88,497.35 L792.73,496.96 L792.57,496.58 L792.40,496.23 L792.20,495.88 L791.97,495.53 L791.74,495.19 L791.52,494.89 L791.33,494.63 L791.20,494.44 Z" fill="#6495ed" fill-opacity="0.3"/>
<path d="M789.60,503.78 L789.50,503.95 L789.39,504.19 L789.25,504.48 L789.05,504.80 L788.78,505.12 L788.40,505.45 L787.94,505.77 L787.42,506.12 L786.82,506.48 L786.13,506.84 L785.33,507.19 L784.40,507.52 L783.36,507.82 L782.21,508.11 L780.96,508.38 L779.59,508.65 L778.07,508.92 L776.40,509.19 L774.46,509.47 L772.25,509.76 L769.90,510.05 L767.55,510.34 L765.34,510.61 L763.40,510.86 L761.74,511.09 L760.25,511.30 L758.90,511.50 L757.66,511.69 L756.50,511.88 L755.40,512.07 L754.35,512.27 L753.38,512.48 L752.49,512.69 L751.70,512.88 L751.00,513.06 L750.40,513.22 L749.92,513.35 L749.55,513.44 L749.27,513.52 L749.09,513.60 L748.96,513.69 L748.90,513.80 L748.86,513.93 L748.84,514.07 L748.90,514.22 L749.07,514.38 L749.39,514.57 L749.90,514.78 L750.62,515.02 L751.53,515.28 L752.59,515.57 L753.77,515.87 L755.05,516.16 L756.40,516.45 L757.84,516.73 L759.40,517.00 L761.06,517.28 L762.79,517.56 L764.58,517.84 L766.40,518.12 L768.35,518.40 L770.46,518.69 L772.62,518.97 L774.73,519.25 L776.70,519.53 L778.40,519.79 L779.84,520.03 L781.10,520.26 L782.21,520.49 L783.20,520.71 L784.08,520.93 L784.90,521.17 L785.62,521.42 L786.21,521.69 L786.70,521.96 L787.13,522.23 L787.52,522.48 L787.90,522.73 L788.28,522.96 L788.63,523.20 L788.94,523.43 L789.21,523.63 L789.43,523.81 L789.60,523.94 L791.20,523.94 L791.37,523.81 L791.59,523.63 L791.86,523.43 L792.17,523.20 L792.52,522.96 L792.90,522.73 L793.28,522.48 L793.67,522.23 L794.10,521.96 L794.59,521.69 L795.18,521.42 L795.90,521.17 L796.72,520.93 L797.60,520.71 L798.59,520.49 L799.70,520.26 L800.96,520.03 L802.40,519.79 L804.10,519.53 L806.07,519.25 L808.18,518.97 L810.34,518.69 L812.45,518.40 L814.40,518.12 L816.22,517.84 L818.01,517.56 L819.74,517.28 L821.40,517.00 L822.96,516.73 L824.40,516.45 L825.75,516.16 L827.03,515.87 L828.21,515.57 L829.27,515.28 L830.18,515.02 L830.90,514.78 L831.41,514.57 L831.73,514.38 L831.90,514.22 L831.96,514.07 L831.94,513.93 L831.90,513.80 L831.84,513.69 L831.71,513.60 L831.52,513.52 L831.25,513.44 L830.88,513.35 L830.40,513.22 L829.80,513.06 L829.10,512.88 L828.31,512.69 L827.42,512.48 L826.45,512.27 L825.40,512.07 L824.30,511.88 L823.14,511.69 L821.90,511.50 L820.55,511.30 L819.06,511.09 L817.40,510.86 L815.46,510.61 L813.25,510.34 L810.90,510.05 L808.55,509.76 L806.34,509.47 L804.40,509.19 L802.73,508.92 L801.21,508.65 L799.84,508.38 L798.59,508.11 L797.44,507.82 L796.40,507.52 L795.47,507.19 L794.67,506.84 L793.98,506.48 L793.38,506.12 L792.86,505.77 L792.40,505.45 L792.02,505.12 L791.75,504.80 L791.55,504.48 L791.41,504.19 L791.30,503.95 L791.20,503.78 Z" fill="#ff7f50" fill-opacity="0.3"/>
<path d="M792.10,500.77 L791.89,500.95 L791.62,501.20 L791.29,501.49 L790.91,501.81 L790.51,502.13 L790.10,502.44 L789.68,502.72 L789.25,503.01 L788.79,503.30 L788.29,503.59 L787.73,503.88 L787.10,504.16 L786.41,504.45 L785.66,504.74 L784.85,505.03 L783.99,505.32 L783.07,505.60 L782.10,505.89 L781.05,506.18 L779.91,506.47 L778.73,506.76 L777.51,507.04 L776.29,507.33 L775.10,507.62 L773.92,507.91 L772.73,508.20 L771.54,508.48 L770.36,508.77 L769.21,509.06 L768.10,509.35 L767.03,509.64 L765.99,509.92 L764.98,510.21 L763.99,510.50 L763.03,510.79 L762.10,511.08 L761.19,511.36 L760.29,511.65 L759.41,511.94 L758.58,512.23 L757.81,512.52 L757.10,512.80 L756.46,513.09 L755.86,513.38 L755.32,513.67 L754.84,513.96 L754.43,514.24 L754.10,514.53 L753.85,514.82 L753.67,515.11 L753.57,515.40 L753.53,515.68 L753.54,515.97 L753.60,516.26 L753.71,516.55 L753.86,516.84 L754.07,517.12 L754.34,517.41 L754.68,517.70 L755.10,517.99 L755.60,518.28 L756.17,518.57 L756.82,518.87 L757.53,519.16 L758.29,519.44 L759.10,519.72 L759.96,519.98 L760.88,520.23 L761.85,520.47 L762.88,520.71 L763.96,520.94 L765.10,521.16 L766.31,521.37 L767.58,521.57 L768.91,521.77 L770.29,521.96 L771.69,522.14 L773.10,522.31 L774.58,522.47 L776.14,522.62 L777.73,522.76 L779.29,522.89 L780.76,523.03 L782.10,523.17 L783.31,523.32 L784.45,523.46 L785.51,523.60 L786.47,523.75 L787.34,523.89 L788.10,524.04 L788.74,524.18 L789.27,524.31 L789.69,524.45 L790.04,524.59 L790.34,524.74 L790.60,524.90 L790.79,525.07 L790.90,525.25 L790.94,525.44 L790.97,525.64 L791.01,525.84 L791.10,526.05 L791.24,526.28 L791.40,526.51 L791.57,526.76 L791.75,527.01 L791.93,527.26 L792.10,527.49 L792.28,527.73 L792.47,527.99 L792.66,528.24 L792.84,528.48 L792.99,528.67 L793.10,528.82 L797.10,528.82 L797.21,528.67 L797.36,528.48 L797.54,528.24 L797.73,527.99 L797.92,527.73 L798.10,527.49 L798.27,527.26 L798.45,527.01 L798.63,526.76 L798.80,526.51 L798.96,526.28 L799.10,526.05 L799.19,525.84 L799.23,525.64 L799.26,525.44 L799.30,525.25 L799.41,525.07 L799.60,524.90 L799.86,524.74 L800.16,524.59 L800.51,524.45 L800.93,524.31 L801.46,524.18 L802.10,524.04 L802.86,523.89 L803.73,523.75 L804.69,523.60 L805.75,523.46 L806.89,523.32 L808.10,523.17 L809.44,523.03 L810.91,522.89 L812.48,522.76 L814.06,522.62 L815.62,522.47 L817.10,522.31 L818.51,522.14 L819.91,521.96 L821.29,521.77 L822.62,521.57 L823.89,521.37 L825.10,521.16 L826.24,520.94 L827.32,520.71 L828.35,520.47 L829.32,520.23 L830.24,519.98 L831.10,519.72 L831.91,519.44 L832.67,519.16 L833.38,518.87 L834.03,518.57 L834.60,518.28 L835.10,517.99 L835.52,517.70 L835.86,517.41 L836.13,517.12 L836.34,516.84 L836.49,516.55 L836.60,516.26 L836.66,515.97 L836.67,515.68 L836.63,515.40 L836.53,515.11 L836.35,514.82 L836.10,514.53 L835.77,514.24 L835.36,513.96 L834.88,513.67 L834.34,513.38 L833.74,513.09 L833.10,512.80 L832.39,512.52 L831.62,512.23 L830.79,511.94 L829.91,511.65 L829.01,511.36 L828.10,511.08 L827.17,510.79 L826.21,510.50 L825.23,510.21 L824.21,509.92 L823.17,509.64 L822.10,509.35 L820.99,509.06 L819.84,508.77 L818.66,508.48 L817.47,508.20 L816.28,507.91 L815.10,507.62 L813.91,507.33 L812.69,507.04 L811.48,506.76 L810.29,506.47 L809.15,506.18 L808.10,505.89 L807.13,505.60 L806.21,505.32 L805.35,505.03 L804.54,504.74 L803.79,504.45 L803.10,504.16 L802.47,503.88 L801.91,503.59 L801.41,503.30 L800.95,503.01 L800.52,502.72 L800.10,502.44 L799.69,502.13 L799.29,501.81 L798.91,501.49 L798.58,501.20 L798.31,500.95 L798.10,500.77 Z" fill="#6495ed" fill-opacity="0.3"/>
<path d="M793.10,506.58 L792.83,506.69 L792.51,506.84 L792.10,507.01 L791.58,507.21 L790.92,507.41 L790.10,507.62 L789.11,507.83 L787.99,508.06 L786.73,508.30 L785.32,508.55 L783.78,508.80 L782.10,509.06 L780.16,509.33 L777.95,509.62 L775.60,509.91 L773.25,510.20 L771.04,510.48 L769.10,510.73 L767.45,510.96 L765.97,511.16 L764.63,511.35 L763.40,511.54 L762.23,511.73 L761.10,511.94 L760.00,512.17 L758.95,512.42 L757.98,512.68 L757.08,512.93 L756.29,513.17 L755.60,513.38 L755.02,513.56 L754.54,513.72 L754.16,513.86 L753.88,514.00 L753.69,514.14 L753.60,514.30 L753.61,514.48 L753.71,514.66 L753.91,514.85 L754.21,515.04 L754.61,515.22 L755.10,515.40 L755.66,515.55 L756.29,515.69 L757.01,515.82 L757.86,515.96 L758.88,516.12 L760.10,516.32 L761.56,516.55 L763.25,516.82 L765.10,517.11 L767.06,517.40 L769.08,517.70 L771.10,517.99 L773.23,518.27 L775.54,518.56 L777.91,518.84 L780.21,519.12 L782.32,519.40 L784.10,519.66 L785.53,519.90 L786.71,520.13 L787.69,520.36 L788.54,520.58 L789.33,520.80 L790.10,521.04 L790.87,521.31 L791.58,521.60 L792.23,521.90 L792.79,522.19 L793.25,522.42 L793.60,522.60 L796.60,522.60 L796.95,522.42 L797.41,522.19 L797.98,521.90 L798.62,521.60 L799.33,521.31 L800.10,521.04 L800.87,520.80 L801.66,520.58 L802.51,520.36 L803.49,520.13 L804.67,519.90 L806.10,519.66 L807.88,519.40 L809.99,519.12 L812.29,518.84 L814.66,518.56 L816.97,518.27 L819.10,517.99 L821.12,517.70 L823.14,517.40 L825.10,517.11 L826.95,516.82 L828.64,516.55 L830.10,516.32 L831.32,516.12 L832.34,515.96 L833.19,515.82 L833.91,515.69 L834.54,515.55 L835.10,515.40 L835.59,515.22 L835.99,515.04 L836.29,514.85 L836.49,514.66 L836.59,514.48 L836.60,514.30 L836.51,514.14 L836.32,514.00 L836.04,513.86 L835.66,513.72 L835.18,513.56 L834.60,513.38 L833.91,513.17 L833.12,512.93 L832.23,512.68 L831.25,512.42 L830.20,512.17 L829.10,511.94 L827.97,511.73 L826.80,511.54 L825.57,511.35 L824.23,511.16 L822.75,510.96 L821.10,510.73 L819.16,510.48 L816.95,510.20 L814.60,509.91 L812.25,509.62 L810.04,509.33 L808.10,509.06 L806.42,508.80 L804.88,508.55 L803.48,508.30 L802.21,508.06 L801.09,507.83 L800.10,507.62 L799.28,507.41 L798.62,507.21 L798.10,507.01 L797.69,506.84 L797.37,506.69 L797.10,506.58 Z" fill="#ff7f50" fill-opacity="0.3"/></g>
<g stroke="#b0b0b0" stroke-width="1.1"><line x1="137.00" y1="11.8" x2="137.00" y2="429.4"/><line x1="137.00" y1="454.1" x2="137.00" y2="577.0"/><line x1="238.55" y1="11.8" x2="238.55" y2="429.4"/><line x1="238.55" y1="454.1" x2="238.55" y2="577.0"/><line x1="340.10" y1="11.8" x2="340.10" y2="429.4"/><line x1="340.10" y1="454.1" x2="340.10" y2="577.0"/><line x1="441.65" y1="11.8" x2="441.65" y2="429.4"/><line x1="441.65" y1="454.1" x2="441.65" y2="577.0"/><line x1="543.20" y1="11.8" x2="543.20" y2="429.4"/><line x1="543.20" y1="454.1" x2="543.20" y2="577.0"/><line x1="644.75" y1="11.8" x2="644.75" y2="429.4"/><line x1="644.75" y1="454.1" x2="644.75" y2="577.0"/><line x1="746.30" y1="11.8" x2="746.30" y2="429.4"/><line x1="746.30" y1="454.1" x2="746.30" y2="577.0"/><line x1="847.85" y1="11.8" x2="847.85" y2="429.4"/><line x1="847.85" y1="454.1" x2="847.85" y2="577.0"/><line x1="949.40" y1="11.8" x2="949.40" y2="429.4"/><line x1="949.40" y1="454.1" x2="949.40" y2="577.0"/><line x1="96.6" y1="11.80" x2="949.5" y2="11.80"/><line x1="96.6" y1="92.02" x2="949.5" y2="92.02"/><line x1="96.6" y1="172.24" x2="949.5" y2="172.24"/><line x1="96.6" y1="252.46" x2="949.5" y2="252.46"/><line x1="96.6" y1="332.68" x2="949.5" y2="332.68"/><line x1="96.6" y1="412.90" x2="949.5" y2="412.90"/><line x1="96.6" y1="454.11" x2="949.5" y2="454.11"/><line x1="96.6" y1="484.83" x2="949.5" y2="484.83"/><line x1="96.6" y1="515.55" x2="949.5" y2="515.55"/><line x1="96.6" y1="546.27" x2="949.5" y2="546.27"/><line x1="96.6" y1="576.99" x2="949.5" y2="576.99"/></g>
<g clip-path="url(#ct)">
<line x1="176.90" y1="244.50" x2="176.90" y2="293.50" stroke="#6495ed" stroke-width="2.0"/><line x1="156.60" y1="244.50" x2="197.20" y2="244.50" stroke="#6495ed" stroke-width="2.0"/><line x1="156.60" y1="293.50" x2="197.20" y2="293.50" stroke="#6495ed" stroke-width="2.0"/>
<line x1="176.90" y1="262.00" x2="176.90" y2="289.00" stroke="#ff7f50" stroke-width="2.0"/><line x1="156.60" y1="262.00" x2="197.20" y2="262.00" stroke="#ff7f50" stroke-width="2.0"/><line x1="156.60" y1="289.00" x2="197.20" y2="289.00" stroke="#ff7f50" stroke-width="2.0"/>
<line x1="644.80" y1="72.70" x2="644.80" y2="253.00" stroke="#6495ed" stroke-width="2.0"/><line x1="624.50" y1="72.70" x2="665.10" y2="72.70" stroke="#6495ed" stroke-width="2.0"/><line x1="624.50" y1="253.00" x2="665.10" y2="253.00" stroke="#6495ed" stroke-width="2.0"/>
<line x1="644.80" y1="82.60" x2="644.80" y2="178.90" stroke="#ff7f50" stroke-width="2.0"/><line x1="624.50" y1="82.60" x2="665.10" y2="82.60" stroke="#ff7f50" stroke-width="2.0"/><line x1="624.50" y1="178.90" x2="665.10" y2="178.90" stroke="#ff7f50" stroke-width="2.0"/>
<line x1="682.60" y1="42.60" x2="682.60" y2="202.20" stroke="#6495ed" stroke-width="2.0"/><line x1="662.30" y1="42.60" x2="702.90" y2="42.60" stroke="#6495ed" stroke-width="2.0"/><line x1="662.30" y1="202.20" x2="702.90" y2="202.20" stroke="#6495ed" stroke-width="2.0"/>
<line x1="682.60" y1="79.90" x2="682.60" y2="180.00" stroke="#ff7f50" stroke-width="2.0"/><line x1="662.30" y1="79.90" x2="702.90" y2="79.90" stroke="#ff7f50" stroke-width="2.0"/><line x1="662.30" y1="180.00" x2="702.90" y2="180.00" stroke="#ff7f50" stroke-width="2.0"/>
<line x1="789.40" y1="71.90" x2="789.40" y2="166.20" stroke="#6495ed" stroke-width="2.0"/><line x1="769.10" y1="71.90" x2="809.70" y2="71.90" stroke="#6495ed" stroke-width="2.0"/><line x1="769.10" y1="166.20" x2="809.70" y2="166.20" stroke="#6495ed" stroke-width="2.0"/>
<line x1="789.40" y1="88.10" x2="789.40" y2="123.10" stroke="#ff7f50" stroke-width="2.0"/><line x1="769.10" y1="88.10" x2="809.70" y2="88.10" stroke="#ff7f50" stroke-width="2.0"/><line x1="769.10" y1="123.10" x2="809.70" y2="123.10" stroke="#ff7f50" stroke-width="2.0"/>
<line x1="795.10" y1="83.10" x2="795.10" y2="131.80" stroke="#6495ed" stroke-width="2.0"/><line x1="774.80" y1="83.10" x2="815.40" y2="83.10" stroke="#6495ed" stroke-width="2.0"/><line x1="774.80" y1="131.80" x2="815.40" y2="131.80" stroke="#6495ed" stroke-width="2.0"/>
<line x1="795.10" y1="93.20" x2="795.10" y2="121.00" stroke="#ff7f50" stroke-width="2.0"/><line x1="774.80" y1="93.20" x2="815.40" y2="93.20" stroke="#ff7f50" stroke-width="2.0"/><line x1="774.80" y1="121.00" x2="815.40" y2="121.00" stroke="#ff7f50" stroke-width="2.0"/>
<polyline points="141.06,411.04 141.68,402.79 142.30,395.56 142.92,389.14 143.54,383.35 144.16,378.09 144.78,373.26 145.40,368.80 146.02,364.66 146.64,360.79 147.26,357.17 147.88,353.75 148.50,350.53 149.12,347.47 149.74,344.57 150.36,341.80 150.98,339.16 151.60,336.63 152.22,334.21 152.83,331.89 153.45,329.65 154.07,327.49 154.69,325.42 155.31,323.41 155.93,321.47 156.55,319.59 157.17,317.77 157.79,316.01 158.41,314.29 159.03,312.63 159.65,311.01 160.27,309.44 160.89,307.90 161.51,306.41 162.13,304.95 162.75,303.53 163.37,302.14 163.99,300.78 164.61,299.45 165.23,298.16 165.85,296.89 166.47,295.65 167.09,294.43 167.71,293.24 168.33,292.07 168.95,290.92 169.56,289.80 170.18,288.70 170.80,287.62 171.42,286.55 172.04,285.51 172.66,284.48 173.28,283.47 173.90,282.48 174.52,281.51 175.14,280.55 175.76,279.61 176.38,278.68 177.00,277.76 177.62,276.86 178.03,276.28 182.88,269.73 187.73,263.83 192.58,258.46 197.43,253.54 202.28,248.99 207.13,244.76 211.99,240.82 216.84,237.12 221.69,233.63 226.54,230.33 231.39,227.20 236.24,224.23 241.09,221.40 245.95,218.69 250.80,216.10 255.65,213.61 260.50,211.22 265.35,208.92 270.20,206.71 275.05,204.57 279.91,202.50 284.76,200.50 289.61,198.56 294.46,196.69 299.31,194.86 304.16,193.09 309.01,191.37 313.87,189.69 318.72,188.06 323.57,186.47 328.42,184.92 333.27,183.41 338.12,181.93 342.97,180.48 347.83,179.07 352.68,177.69 357.53,176.34 362.38,175.01 367.23,173.72 372.08,172.45 376.93,171.20 381.79,169.98 386.64,168.78 391.49,167.60 396.34,166.44 401.19,165.31 406.04,164.19 410.89,163.09 415.75,162.02 420.60,160.95 425.45,159.91 430.30,158.88 435.15,157.87 440.00,156.88 444.85,155.89 449.71,154.93 454.56,153.97 459.41,153.04 464.26,152.11 469.11,151.20 473.96,150.30 478.81,149.41 483.66,148.53 488.52,147.67 493.37,146.81 498.22,145.97 503.07,145.14 507.92,144.31 512.77,143.50 517.62,142.70 522.48,141.91 527.33,141.12 532.18,140.35 537.03,139.58 541.88,138.83 546.73,138.08 551.58,137.34 556.44,136.60 561.29,135.88 566.14,135.16 570.99,134.45 575.84,133.75 580.69,133.05 585.54,132.37 590.40,131.68 595.25,131.01 600.10,130.34 604.95,129.68 609.80,129.03 614.65,128.38 619.50,127.73 624.36,127.10 629.21,126.47 634.06,125.84 638.91,125.22 643.76,124.61 648.61,124.00 653.46,123.39 658.32,122.79 663.17,122.20 668.02,121.61 672.87,121.03 677.72,120.45 682.57,119.88 687.42,119.31 692.28,118.74 697.13,118.18 701.98,117.63 706.83,117.08 711.68,116.53 716.53,115.99 721.38,115.45 726.24,114.91 731.09,114.38 735.94,113.86 740.79,113.33 745.64,112.81 750.49,112.30 755.34,111.79 760.20,111.28 765.05,110.78 769.90,110.27 774.75,109.78 779.60,109.28 784.45,108.79 789.30,108.31 794.15,107.82 799.01,107.34 803.86,106.86 808.71,106.39 813.56,105.92 818.41,105.45 823.26,104.99 828.11,104.52 832.97,104.06 837.82,103.61 842.67,103.15 847.52,102.70 852.37,102.26 857.22,101.81 862.07,101.37 866.93,100.93 871.78,100.49 876.63,100.06 881.48,99.62 886.33,99.19 891.18,98.77 896.03,98.34 900.89,97.92 905.74,97.50 910.59,97.08 915.44,96.67 920.29,96.26 925.14,95.85 929.99,95.44 934.85,95.03 939.70,94.63 944.55,94.23 949.40,93.83" fill="none" stroke="#006400" stroke-width="2.6" stroke-dasharray="9.5 4.1"/>
</g>
<g clip-path="url(#cb)">
<line x1="176.90" y1="496.47" x2="176.90" y2="524.70" stroke="#6495ed" stroke-width="2.0"/><line x1="156.60" y1="496.47" x2="197.20" y2="496.47" stroke="#6495ed" stroke-width="2.0"/><line x1="156.60" y1="524.70" x2="197.20" y2="524.70" stroke="#6495ed" stroke-width="2.0"/>
<line x1="176.90" y1="506.55" x2="176.90" y2="522.10" stroke="#ff7f50" stroke-width="2.0"/><line x1="156.60" y1="506.55" x2="197.20" y2="506.55" stroke="#ff7f50" stroke-width="2.0"/><line x1="156.60" y1="522.10" x2="197.20" y2="522.10" stroke="#ff7f50" stroke-width="2.0"/>
<line x1="644.80" y1="485.34" x2="644.80" y2="589.19" stroke="#6495ed" stroke-width="2.0"/><line x1="624.50" y1="485.34" x2="665.10" y2="485.34" stroke="#6495ed" stroke-width="2.0"/><line x1="624.50" y1="589.19" x2="665.10" y2="589.19" stroke="#6495ed" stroke-width="2.0"/>
<line x1="644.80" y1="491.04" x2="644.80" y2="546.51" stroke="#ff7f50" stroke-width="2.0"/><line x1="624.50" y1="491.04" x2="665.10" y2="491.04" stroke="#ff7f50" stroke-width="2.0"/><line x1="624.50" y1="546.51" x2="665.10" y2="546.51" stroke="#ff7f50" stroke-width="2.0"/>
<line x1="682.60" y1="470.76" x2="682.60" y2="562.69" stroke="#6495ed" stroke-width="2.0"/><line x1="662.30" y1="470.76" x2="702.90" y2="470.76" stroke="#6495ed" stroke-width="2.0"/><line x1="662.30" y1="562.69" x2="702.90" y2="562.69" stroke="#6495ed" stroke-width="2.0"/>
<line x1="682.60" y1="492.24" x2="682.60" y2="549.90" stroke="#ff7f50" stroke-width="2.0"/><line x1="662.30" y1="492.24" x2="702.90" y2="492.24" stroke="#ff7f50" stroke-width="2.0"/><line x1="662.30" y1="549.90" x2="702.90" y2="549.90" stroke="#ff7f50" stroke-width="2.0"/>
<line x1="789.40" y1="494.44" x2="789.40" y2="548.76" stroke="#6495ed" stroke-width="2.0"/><line x1="769.10" y1="494.44" x2="809.70" y2="494.44" stroke="#6495ed" stroke-width="2.0"/><line x1="769.10" y1="548.76" x2="809.70" y2="548.76" stroke="#6495ed" stroke-width="2.0"/>
<line x1="789.40" y1="503.78" x2="789.40" y2="523.94" stroke="#ff7f50" stroke-width="2.0"/><line x1="769.10" y1="503.78" x2="809.70" y2="503.78" stroke="#ff7f50" stroke-width="2.0"/><line x1="769.10" y1="523.94" x2="809.70" y2="523.94" stroke="#ff7f50" stroke-width="2.0"/>
<line x1="795.10" y1="500.77" x2="795.10" y2="528.82" stroke="#6495ed" stroke-width="2.0"/><line x1="774.80" y1="500.77" x2="815.40" y2="500.77" stroke="#6495ed" stroke-width="2.0"/><line x1="774.80" y1="528.82" x2="815.40" y2="528.82" stroke="#6495ed" stroke-width="2.0"/>
<line x1="795.10" y1="506.58" x2="795.10" y2="522.60" stroke="#ff7f50" stroke-width="2.0"/><line x1="774.80" y1="506.58" x2="815.40" y2="506.58" stroke="#ff7f50" stroke-width="2.0"/><line x1="774.80" y1="522.60" x2="815.40" y2="522.60" stroke="#ff7f50" stroke-width="2.0"/>
<line x1="141.06" y1="515.55" x2="949.5" y2="515.55" stroke="#006400" stroke-opacity="0.53" stroke-width="5" stroke-dasharray="19 8"/>
</g>
<g stroke="#000" stroke-width="1.1"><rect x="96.6" y="11.8" width="852.9" height="417.59999999999997" fill="none"/><rect x="96.6" y="454.1" width="852.9" height="122.89999999999998" fill="none"/><line x1="90.39999999999999" y1="11.80" x2="96.6" y2="11.80"/><line x1="90.39999999999999" y1="92.02" x2="96.6" y2="92.02"/><line x1="90.39999999999999" y1="172.24" x2="96.6" y2="172.24"/><line x1="90.39999999999999" y1="252.46" x2="96.6" y2="252.46"/><line x1="90.39999999999999" y1="332.68" x2="96.6" y2="332.68"/><line x1="90.39999999999999" y1="412.90" x2="96.6" y2="412.90"/><line x1="90.39999999999999" y1="454.11" x2="96.6" y2="454.11"/><line x1="90.39999999999999" y1="484.83" x2="96.6" y2="484.83"/><line x1="90.39999999999999" y1="515.55" x2="96.6" y2="515.55"/><line x1="90.39999999999999" y1="546.27" x2="96.6" y2="546.27"/><line x1="90.39999999999999" y1="576.99" x2="96.6" y2="576.99"/><line x1="137.00" y1="429.4" x2="137.00" y2="435.59999999999997"/><line x1="137.00" y1="577.0" x2="137.00" y2="583.2"/><line x1="238.55" y1="429.4" x2="238.55" y2="435.59999999999997"/><line x1="238.55" y1="577.0" x2="238.55" y2="583.2"/><line x1="340.10" y1="429.4" x2="340.10" y2="435.59999999999997"/><line x1="340.10" y1="577.0" x2="340.10" y2="583.2"/><line x1="441.65" y1="429.4" x2="441.65" y2="435.59999999999997"/><line x1="441.65" y1="577.0" x2="441.65" y2="583.2"/><line x1="543.20" y1="429.4" x2="543.20" y2="435.59999999999997"/><line x1="543.20" y1="577.0" x2="543.20" y2="583.2"/><line x1="644.75" y1="429.4" x2="644.75" y2="435.59999999999997"/><line x1="644.75" y1="577.0" x2="644.75" y2="583.2"/><line x1="746.30" y1="429.4" x2="746.30" y2="435.59999999999997"/><line x1="746.30" y1="577.0" x2="746.30" y2="583.2"/><line x1="847.85" y1="429.4" x2="847.85" y2="435.59999999999997"/><line x1="847.85" y1="577.0" x2="847.85" y2="583.2"/><line x1="949.40" y1="429.4" x2="949.40" y2="435.59999999999997"/><line x1="949.40" y1="577.0" x2="949.40" y2="583.2"/></g>
<g font-family='"Liberation Sans", sans-serif' font-size="29" fill="#000" opacity="0.999"><text transform="translate(79.5,21.20)" text-anchor="end">43</text><text transform="translate(79.5,101.42)" text-anchor="end">40</text><text transform="translate(79.5,181.64)" text-anchor="end">37</text><text transform="translate(79.5,261.86)" text-anchor="end">34</text><text transform="translate(79.5,342.08)" text-anchor="end">31</text><text transform="translate(79.5,422.30)" text-anchor="end">28</text><text transform="translate(79.5,463.51)" text-anchor="end">4</text><text transform="translate(79.5,494.23)" text-anchor="end">2</text><text transform="translate(79.5,524.95)" text-anchor="end">0</text><text transform="translate(79.5,555.67)" text-anchor="end">2</text><rect x="47.3" y="546.72" width="16.6" height="1.9"/><text transform="translate(79.5,586.39)" text-anchor="end">4</text><rect x="47.3" y="577.44" width="16.6" height="1.9"/><text transform="translate(137.00,615.8)" text-anchor="middle">0.000</text><text transform="translate(238.55,615.8)" text-anchor="middle">0.025</text><text transform="translate(340.10,615.8)" text-anchor="middle">0.050</text><text transform="translate(441.65,615.8)" text-anchor="middle">0.075</text><text transform="translate(543.20,615.8)" text-anchor="middle">0.100</text><text transform="translate(644.75,615.8)" text-anchor="middle">0.125</text><text transform="translate(746.30,615.8)" text-anchor="middle">0.150</text><text transform="translate(847.85,615.8)" text-anchor="middle">0.175</text><text transform="translate(949.40,615.8)" text-anchor="middle">0.200</text><text x="524" y="658.6" text-anchor="middle">Redshift</text><text transform="translate(21.2,220.4) rotate(-90)" text-anchor="middle">Distance mod. [mag]</text><text transform="translate(21.2,515.0) rotate(-90)" text-anchor="middle">Hubble res. [mag]</text></g>
<rect x="110.2" y="25.47" width="258.15" height="127.58" rx="4.5" ry="4.5" fill="#fff" fill-opacity="0.8" stroke="#d0d0d0" stroke-width="1.6"/><rect x="120.1" y="37.1" width="56.1" height="20.5" fill="#6495ed"/><rect x="120.1" y="76.8" width="56.1" height="20.5" fill="#ff7f50"/><line x1="121" y1="127.25" x2="176.3" y2="127.25" stroke="#006400" stroke-width="2.5" stroke-dasharray="9.5 4.05"/><g font-family='"Liberation Sans", sans-serif' font-size="25" fill="#000" opacity="0.999"><text x="188.5" y="55.7">Kasen et al.</text><text x="188.5" y="95.3">Bulla</text><text x="206" y="143" font-size="16.5">CDM</text></g><text x="188" y="134.7" font-family='"Liberation Serif", serif' font-size="25" fill="#000" opacity="0.999">Λ</text>
</svg></body></html>
